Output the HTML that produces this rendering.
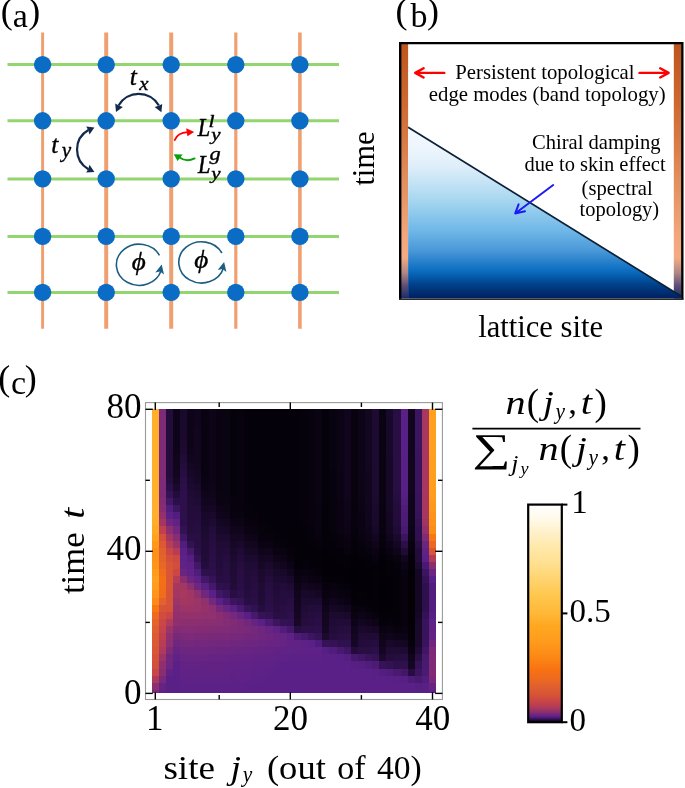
<!DOCTYPE html>
<html lang="en"><head><meta charset="utf-8"><title>Chiral damping figure</title>
<style>html,body{margin:0;padding:0;background:#fff}svg{display:block}text{font-family:"Liberation Serif", serif;fill:#000}.i{font-style:italic}</style></head><body>
<svg width="685" height="788" viewBox="0 0 685 788">
<defs>
<linearGradient id="gb" x1="0" y1="0" x2="0" y2="1">
<stop offset="0" stop-color="#f6f9ff"/>
<stop offset="0.12" stop-color="#eef5fd"/>
<stop offset="0.24" stop-color="#dcedf9"/>
<stop offset="0.42" stop-color="#a9d7f0"/>
<stop offset="0.6" stop-color="#70b8e8"/>
<stop offset="0.72" stop-color="#4a98d8"/>
<stop offset="0.84" stop-color="#0a6cc0"/>
<stop offset="0.92" stop-color="#004088"/>
<stop offset="1" stop-color="#001f60"/>
</linearGradient>
<linearGradient id="go" x1="0" y1="0" x2="0" y2="1">
<stop offset="0" stop-color="#bd561c"/>
<stop offset="0.25" stop-color="#cf6a32"/>
<stop offset="0.5" stop-color="#e08a58"/>
<stop offset="0.75" stop-color="#f2a67c"/>
<stop offset="0.84" stop-color="#f4aa82"/>
<stop offset="0.9" stop-color="#b08684"/>
<stop offset="0.95" stop-color="#5c4e78"/>
<stop offset="1" stop-color="#182c68"/>
</linearGradient>
<linearGradient id="gc" x1="0" y1="1" x2="0" y2="0">
<stop offset="0" stop-color="#020005"/>
<stop offset="0.013" stop-color="#301150"/>
<stop offset="0.025" stop-color="#5a2088"/>
<stop offset="0.046" stop-color="#8a2e72"/>
<stop offset="0.067" stop-color="#b03a5a"/>
<stop offset="0.095" stop-color="#c84448"/>
<stop offset="0.13" stop-color="#d85535"/>
<stop offset="0.165" stop-color="#e06030"/>
<stop offset="0.2" stop-color="#ee6a20"/>
<stop offset="0.242" stop-color="#f87212"/>
<stop offset="0.305" stop-color="#fc8a16"/>
<stop offset="0.375" stop-color="#ff9c1c"/>
<stop offset="0.445" stop-color="#ffa822"/>
<stop offset="0.5" stop-color="#ffb838"/>
<stop offset="0.59" stop-color="#ffc850"/>
<stop offset="0.66" stop-color="#ffd470"/>
<stop offset="0.73" stop-color="#ffe090"/>
<stop offset="0.8" stop-color="#ffe8a8"/>
<stop offset="0.87" stop-color="#fff0c8"/>
<stop offset="0.94" stop-color="#fffaec"/>
<stop offset="1" stop-color="#ffffff"/>
</linearGradient>
</defs>
<rect width="685" height="788" fill="#fff"/>
<g id="panel-a">
<text y="23.1" font-size="36"><tspan x="0.8">(</tspan><tspan x="28.3">)</tspan></text>
<text x="12.7" y="26.7" font-size="34">a</text>
<line x1="7.5" x2="339" y1="64.6" y2="64.6" stroke="#93d56f" stroke-width="3"/>
<line x1="7.5" x2="339" y1="120.8" y2="120.8" stroke="#93d56f" stroke-width="3"/>
<line x1="7.5" x2="339" y1="178.9" y2="178.9" stroke="#93d56f" stroke-width="3"/>
<line x1="7.5" x2="339" y1="236.4" y2="236.4" stroke="#93d56f" stroke-width="3"/>
<line x1="7.5" x2="339" y1="292.4" y2="292.4" stroke="#93d56f" stroke-width="3"/>
<line x1="42.6" x2="42.6" y1="32.5" y2="328.8" stroke="#f0a070" stroke-width="3"/>
<line x1="106.2" x2="106.2" y1="32.5" y2="328.8" stroke="#f0a070" stroke-width="4"/>
<line x1="171.2" x2="171.2" y1="32.5" y2="328.8" stroke="#f0a070" stroke-width="4"/>
<line x1="235.8" x2="235.8" y1="32.5" y2="328.8" stroke="#f0a070" stroke-width="3.2"/>
<line x1="299.9" x2="299.9" y1="32.5" y2="328.8" stroke="#f0a070" stroke-width="3.6"/>
<circle cx="42.6" cy="64.6" r="8.7" fill="#0a6cc4"/>
<circle cx="106.2" cy="64.6" r="8.7" fill="#0a6cc4"/>
<circle cx="171.2" cy="64.6" r="8.7" fill="#0a6cc4"/>
<circle cx="235.8" cy="64.6" r="8.7" fill="#0a6cc4"/>
<circle cx="299.9" cy="64.6" r="8.7" fill="#0a6cc4"/>
<circle cx="42.6" cy="120.8" r="8.7" fill="#0a6cc4"/>
<circle cx="106.2" cy="120.8" r="8.7" fill="#0a6cc4"/>
<circle cx="171.2" cy="120.8" r="8.7" fill="#0a6cc4"/>
<circle cx="235.8" cy="120.8" r="8.7" fill="#0a6cc4"/>
<circle cx="299.9" cy="120.8" r="8.7" fill="#0a6cc4"/>
<circle cx="42.6" cy="178.9" r="8.7" fill="#0a6cc4"/>
<circle cx="106.2" cy="178.9" r="8.7" fill="#0a6cc4"/>
<circle cx="171.2" cy="178.9" r="8.7" fill="#0a6cc4"/>
<circle cx="235.8" cy="178.9" r="8.7" fill="#0a6cc4"/>
<circle cx="299.9" cy="178.9" r="8.7" fill="#0a6cc4"/>
<circle cx="42.6" cy="236.4" r="8.7" fill="#0a6cc4"/>
<circle cx="106.2" cy="236.4" r="8.7" fill="#0a6cc4"/>
<circle cx="171.2" cy="236.4" r="8.7" fill="#0a6cc4"/>
<circle cx="235.8" cy="236.4" r="8.7" fill="#0a6cc4"/>
<circle cx="299.9" cy="236.4" r="8.7" fill="#0a6cc4"/>
<circle cx="42.6" cy="292.4" r="8.7" fill="#0a6cc4"/>
<circle cx="106.2" cy="292.4" r="8.7" fill="#0a6cc4"/>
<circle cx="171.2" cy="292.4" r="8.7" fill="#0a6cc4"/>
<circle cx="235.8" cy="292.4" r="8.7" fill="#0a6cc4"/>
<circle cx="299.9" cy="292.4" r="8.7" fill="#0a6cc4"/>
<path d="M118.5 105.55 A23.3 23.3 0 0 1 158.9 105.55" fill="none" stroke="#13294b" stroke-width="2.2"/>
<path d="M116.0 111.9 L115.2 103.6 L118.6 105.6 L122.9 106.9 Z" fill="#13294b"/>
<path d="M161.4 112.3 L154.6 107.0 L158.8 105.8 L162.2 103.9 Z" fill="#13294b"/>
<path d="M88.4 130.0 A22.6 22.6 0 0 0 88.4 169.2" fill="none" stroke="#13294b" stroke-width="2.2"/>
<path d="M94.4 127.5 L86.2 126.6 L88.2 130.0 L89.5 134.4 Z" fill="#13294b"/>
<path d="M94.4 171.9 L89.5 164.8 L88.2 169.2 L86.2 172.6 Z" fill="#13294b"/>
<text x="129.78" y="85.10" font-size="25.5" class="i" stroke="#000" stroke-width="0.35">t</text>
<text x="139.36" y="89.80" font-size="19.6" class="i" textLength="9.30" lengthAdjust="spacingAndGlyphs" stroke="#000" stroke-width="0.35">x</text>
<text x="51.28" y="152.50" font-size="25.5" class="i" stroke="#000" stroke-width="0.35">t</text>
<text x="61.67" y="157.30" font-size="21" class="i" textLength="9.42" lengthAdjust="spacingAndGlyphs" stroke="#000" stroke-width="0.35">y</text>
<text x="197.66" y="136.30" font-size="24.6" class="i" textLength="12.39" lengthAdjust="spacingAndGlyphs" stroke="#000" stroke-width="0.5">L</text>
<text x="208.44" y="126.60" font-size="16" class="i" textLength="6.03" lengthAdjust="spacingAndGlyphs" stroke="#000" stroke-width="0.35">l</text>
<text x="211.36" y="140.40" font-size="17.3" class="i" textLength="9.33" lengthAdjust="spacingAndGlyphs" stroke="#000" stroke-width="0.35">y</text>
<text x="198.06" y="173.30" font-size="24.6" class="i" textLength="12.39" lengthAdjust="spacingAndGlyphs" stroke="#000" stroke-width="0.5">L</text>
<text x="209.59" y="160.20" font-size="18" class="i" textLength="11.17" lengthAdjust="spacingAndGlyphs" stroke="#000" stroke-width="0.35">g</text>
<text x="211.36" y="179.00" font-size="17.3" class="i" textLength="9.33" lengthAdjust="spacingAndGlyphs" stroke="#000" stroke-width="0.35">y</text>
<path d="M174.8 140.0 Q177.5 132.6 187.6 132.1" fill="none" stroke="#ff0000" stroke-width="1.9" stroke-linecap="round"/>
<path d="M194.2 132.0 L186.2 128.3 L187.4 136.2 Z" fill="#ff0000"/>
<path d="M194.6 158.4 Q186.5 162.6 179.6 157.6" fill="none" stroke="#0aa00a" stroke-width="1.9" stroke-linecap="round"/>
<path d="M173.8 154.2 L182.6 154.6 L177.6 160.9 Z" fill="#0aa00a"/>
<path d="M159.5 255.4 A22.8 20.6 0 1 0 161.1 270.5" fill="none" stroke="#1b5e82" stroke-width="1.6"/>
<path d="M161.7 264.5 L155.3 272.5 L160.1 271.5 L164.0 274.5 Z" fill="#1b5e82"/>
<text x="131.8" y="269.8" font-size="25.5" textLength="14" lengthAdjust="spacingAndGlyphs" class="i" stroke="#000" stroke-width="0.35">&#981;</text>
<path d="M221.9 253.0 A22.8 20.6 0 1 0 223.5 268.1" fill="none" stroke="#1b5e82" stroke-width="1.6"/>
<path d="M224.1 262.1 L217.7 270.1 L222.5 269.1 L226.4 272.1 Z" fill="#1b5e82"/>
<text x="194.2" y="268.3" font-size="25.5" textLength="14" lengthAdjust="spacingAndGlyphs" class="i" stroke="#000" stroke-width="0.35">&#981;</text>
</g>
<g id="panel-b">
<text y="23.3" font-size="36"><tspan x="395.5">(</tspan><tspan x="426.9">)</tspan></text>
<text x="410.4" y="26.6" font-size="34">b</text>
<rect x="400.9" y="44" width="7.2" height="254.5" fill="url(#go)"/>
<rect x="673.8" y="44" width="7.2" height="254.5" fill="url(#go)"/>
<path d="M408.1 127.2 L680.8 296 L680.8 298.6 L408.1 298.6 Z" fill="url(#gb)"/>
<path d="M408.1 127.2 L680.8 296" stroke="#0b2038" stroke-width="1.7" fill="none"/>
<path d="M400.2 299.6 V43.1 H682.3 V299.6" fill="none" stroke="#000" stroke-width="2.4"/>
<path d="M399 299.2 H683.5" stroke="#2a2a2a" stroke-width="1.6"/>
<path d="M444.3 72.9 H415.6 M423.6 68.3 L415.2 72.9 L423.6 77.5" fill="none" stroke="#ff0000" stroke-width="2.4" stroke-linecap="round" stroke-linejoin="round"/>
<path d="M639.5 72.9 H668.2 M660.2 68.3 L668.6 72.9 L660.2 77.5" fill="none" stroke="#ff0000" stroke-width="2.4" stroke-linecap="round" stroke-linejoin="round"/>
<text x="455.3" y="78.9" font-size="20.7" textLength="179.3" lengthAdjust="spacingAndGlyphs">Persistent topological</text>
<text x="428.8" y="101.0" font-size="20.7" textLength="236.8" lengthAdjust="spacingAndGlyphs">edge modes (band topology)</text>
<text x="532" y="148.7" font-size="20.7" textLength="128.5" lengthAdjust="spacingAndGlyphs">Chiral damping</text>
<text x="524.4" y="171.2" font-size="20.7" textLength="141.2" lengthAdjust="spacingAndGlyphs">due to skin effect</text>
<text x="581.6" y="195.0" font-size="20.7" textLength="71.1" lengthAdjust="spacingAndGlyphs">(spectral</text>
<text x="579.5" y="216.0" font-size="20.7" textLength="79.7" lengthAdjust="spacingAndGlyphs">topology)</text>
<path d="M553.2 185.0 L515.8 213.0 M525.0 211.2 L515.2 213.4 L518.6 204.4" fill="none" stroke="#1c1cf2" stroke-width="2.0" stroke-linecap="round" stroke-linejoin="round"/>
<text transform="translate(374,185.6) rotate(-90)" font-size="30.5">time</text>
<text x="478.2" y="336.9" font-size="30.6">lattice site</text>
</g>
<g id="panel-c">
<text y="390.3" font-size="36"><tspan x="-1.7">(</tspan><tspan x="24.8">)</tspan></text>
<text x="11.0" y="393.5" font-size="34">c</text>
<g shape-rendering="crispEdges">
<rect x="151.70" y="689.55" width="7.41" height="3.55" fill="#7a297a"/>
<rect x="158.81" y="689.55" width="7.41" height="3.55" fill="#5e2186"/>
<rect x="165.92" y="689.55" width="14.52" height="3.55" fill="#591f86"/>
<rect x="180.14" y="689.55" width="234.93" height="3.55" fill="#5a2088"/>
<rect x="414.77" y="689.55" width="7.41" height="3.55" fill="#581f85"/>
<rect x="421.88" y="689.55" width="7.41" height="3.55" fill="#591f86"/>
<rect x="428.99" y="689.55" width="7.11" height="3.55" fill="#5c2087"/>
<rect x="151.70" y="682.45" width="7.41" height="7.40" fill="#8c2f71"/>
<rect x="158.81" y="682.45" width="7.41" height="7.40" fill="#652383"/>
<rect x="165.92" y="682.45" width="14.52" height="7.40" fill="#592086"/>
<rect x="180.14" y="682.45" width="50.07" height="7.40" fill="#5c2187"/>
<rect x="229.91" y="682.45" width="14.52" height="7.40" fill="#5c2087"/>
<rect x="244.13" y="682.45" width="14.52" height="7.40" fill="#5b2087"/>
<rect x="258.35" y="682.45" width="14.52" height="7.40" fill="#5b2088"/>
<rect x="272.57" y="682.45" width="135.39" height="7.40" fill="#5a2088"/>
<rect x="407.66" y="682.45" width="7.41" height="7.40" fill="#592086"/>
<rect x="414.77" y="682.45" width="7.41" height="7.40" fill="#561f82"/>
<rect x="421.88" y="682.45" width="7.41" height="7.40" fill="#581f85"/>
<rect x="428.99" y="682.45" width="7.11" height="7.40" fill="#672482"/>
<rect x="151.70" y="675.34" width="7.41" height="7.40" fill="#ad395c"/>
<rect x="158.81" y="675.34" width="7.41" height="7.40" fill="#7a297a"/>
<rect x="165.92" y="675.34" width="14.52" height="7.40" fill="#592087"/>
<rect x="180.14" y="675.34" width="7.41" height="7.40" fill="#5e2186"/>
<rect x="187.25" y="675.34" width="7.41" height="7.40" fill="#5f2186"/>
<rect x="194.36" y="675.34" width="35.85" height="7.40" fill="#5e2186"/>
<rect x="229.91" y="675.34" width="7.41" height="7.40" fill="#5d2186"/>
<rect x="237.02" y="675.34" width="14.52" height="7.40" fill="#5d2187"/>
<rect x="251.24" y="675.34" width="14.52" height="7.40" fill="#5c2187"/>
<rect x="265.46" y="675.34" width="7.41" height="7.40" fill="#5b2087"/>
<rect x="272.57" y="675.34" width="14.52" height="7.40" fill="#5b2088"/>
<rect x="286.79" y="675.34" width="92.73" height="7.40" fill="#5a2088"/>
<rect x="379.22" y="675.34" width="14.52" height="7.40" fill="#592087"/>
<rect x="393.44" y="675.34" width="7.41" height="7.40" fill="#581f85"/>
<rect x="400.55" y="675.34" width="7.41" height="7.40" fill="#571f84"/>
<rect x="407.66" y="675.34" width="7.41" height="7.40" fill="#4e1c78"/>
<rect x="414.77" y="675.34" width="7.41" height="7.40" fill="#491a72"/>
<rect x="421.88" y="675.34" width="7.41" height="7.40" fill="#521d7d"/>
<rect x="428.99" y="675.34" width="7.11" height="7.40" fill="#7b2a79"/>
<rect x="151.70" y="668.24" width="7.41" height="7.40" fill="#c94547"/>
<rect x="158.81" y="668.24" width="7.41" height="7.40" fill="#8a2e72"/>
<rect x="165.92" y="668.24" width="7.41" height="7.40" fill="#622284"/>
<rect x="173.03" y="668.24" width="7.41" height="7.40" fill="#5a2087"/>
<rect x="180.14" y="668.24" width="21.63" height="7.40" fill="#612285"/>
<rect x="201.47" y="668.24" width="28.74" height="7.40" fill="#602285"/>
<rect x="229.91" y="668.24" width="14.52" height="7.40" fill="#5f2186"/>
<rect x="244.13" y="668.24" width="7.41" height="7.40" fill="#5e2186"/>
<rect x="251.24" y="668.24" width="7.41" height="7.40" fill="#5d2186"/>
<rect x="258.35" y="668.24" width="7.41" height="7.40" fill="#5d2187"/>
<rect x="265.46" y="668.24" width="7.41" height="7.40" fill="#5c2187"/>
<rect x="272.57" y="668.24" width="7.41" height="7.40" fill="#5b2087"/>
<rect x="279.68" y="668.24" width="7.41" height="7.40" fill="#5b2088"/>
<rect x="286.79" y="668.24" width="64.29" height="7.40" fill="#5a2088"/>
<rect x="350.78" y="668.24" width="7.41" height="7.40" fill="#5a2087"/>
<rect x="357.89" y="668.24" width="14.52" height="7.40" fill="#592087"/>
<rect x="372.11" y="668.24" width="7.41" height="7.40" fill="#581f85"/>
<rect x="379.22" y="668.24" width="7.41" height="7.40" fill="#541e80"/>
<rect x="386.33" y="668.24" width="7.41" height="7.40" fill="#511d7b"/>
<rect x="393.44" y="668.24" width="7.41" height="7.40" fill="#4a1a72"/>
<rect x="400.55" y="668.24" width="7.41" height="7.40" fill="#421768"/>
<rect x="407.66" y="668.24" width="7.41" height="7.40" fill="#270e42"/>
<rect x="414.77" y="668.24" width="7.41" height="7.40" fill="#3c1560"/>
<rect x="421.88" y="668.24" width="7.41" height="7.40" fill="#4b1b74"/>
<rect x="428.99" y="668.24" width="7.11" height="7.40" fill="#822c76"/>
<rect x="151.70" y="661.14" width="7.41" height="7.40" fill="#d24f3c"/>
<rect x="158.81" y="661.14" width="7.41" height="7.40" fill="#8f2f6f"/>
<rect x="165.92" y="661.14" width="7.41" height="7.40" fill="#6e267f"/>
<rect x="173.03" y="661.14" width="7.41" height="7.40" fill="#5b2087"/>
<rect x="180.14" y="661.14" width="21.63" height="7.40" fill="#632384"/>
<rect x="201.47" y="661.14" width="21.63" height="7.40" fill="#622284"/>
<rect x="222.80" y="661.14" width="14.52" height="7.40" fill="#612285"/>
<rect x="237.02" y="661.14" width="7.41" height="7.40" fill="#602285"/>
<rect x="244.13" y="661.14" width="7.41" height="7.40" fill="#5f2286"/>
<rect x="251.24" y="661.14" width="7.41" height="7.40" fill="#5f2186"/>
<rect x="258.35" y="661.14" width="7.41" height="7.40" fill="#5e2186"/>
<rect x="265.46" y="661.14" width="7.41" height="7.40" fill="#5d2187"/>
<rect x="272.57" y="661.14" width="7.41" height="7.40" fill="#5c2187"/>
<rect x="279.68" y="661.14" width="7.41" height="7.40" fill="#5b2088"/>
<rect x="286.79" y="661.14" width="50.07" height="7.40" fill="#5a2088"/>
<rect x="336.56" y="661.14" width="14.52" height="7.40" fill="#592087"/>
<rect x="350.78" y="661.14" width="7.41" height="7.40" fill="#571f84"/>
<rect x="357.89" y="661.14" width="7.41" height="7.40" fill="#551e81"/>
<rect x="365.00" y="661.14" width="7.41" height="7.40" fill="#511d7c"/>
<rect x="372.11" y="661.14" width="7.41" height="7.40" fill="#4b1b75"/>
<rect x="379.22" y="661.14" width="7.41" height="7.40" fill="#361359"/>
<rect x="386.33" y="661.14" width="7.41" height="7.40" fill="#331254"/>
<rect x="393.44" y="661.14" width="7.41" height="7.40" fill="#2e104d"/>
<rect x="400.55" y="661.14" width="7.41" height="7.40" fill="#2e104c"/>
<rect x="407.66" y="661.14" width="7.41" height="7.40" fill="#150724"/>
<rect x="414.77" y="661.14" width="7.41" height="7.40" fill="#341255"/>
<rect x="421.88" y="661.14" width="7.41" height="7.40" fill="#491a72"/>
<rect x="428.99" y="661.14" width="7.11" height="7.40" fill="#812b76"/>
<rect x="151.70" y="654.04" width="7.41" height="7.40" fill="#d55139"/>
<rect x="158.81" y="654.04" width="7.41" height="7.40" fill="#9c3467"/>
<rect x="165.92" y="654.04" width="7.41" height="7.40" fill="#71277d"/>
<rect x="173.03" y="654.04" width="7.41" height="7.40" fill="#612285"/>
<rect x="180.14" y="654.04" width="28.74" height="7.40" fill="#672482"/>
<rect x="208.58" y="654.04" width="7.41" height="7.40" fill="#662482"/>
<rect x="215.69" y="654.04" width="7.41" height="7.40" fill="#662383"/>
<rect x="222.80" y="654.04" width="7.41" height="7.40" fill="#652383"/>
<rect x="229.91" y="654.04" width="7.41" height="7.40" fill="#642383"/>
<rect x="237.02" y="654.04" width="7.41" height="7.40" fill="#632384"/>
<rect x="244.13" y="654.04" width="7.41" height="7.40" fill="#632284"/>
<rect x="251.24" y="654.04" width="7.41" height="7.40" fill="#622285"/>
<rect x="258.35" y="654.04" width="7.41" height="7.40" fill="#612285"/>
<rect x="265.46" y="654.04" width="7.41" height="7.40" fill="#602285"/>
<rect x="272.57" y="654.04" width="7.41" height="7.40" fill="#5e2186"/>
<rect x="279.68" y="654.04" width="7.41" height="7.40" fill="#5d2187"/>
<rect x="286.79" y="654.04" width="21.63" height="7.40" fill="#5c2187"/>
<rect x="308.12" y="654.04" width="14.52" height="7.40" fill="#5c2087"/>
<rect x="322.34" y="654.04" width="7.41" height="7.40" fill="#5b2088"/>
<rect x="329.45" y="654.04" width="7.41" height="7.40" fill="#5a2088"/>
<rect x="336.56" y="654.04" width="7.41" height="7.40" fill="#581f86"/>
<rect x="343.67" y="654.04" width="7.41" height="7.40" fill="#551e81"/>
<rect x="350.78" y="654.04" width="7.41" height="7.40" fill="#47196e"/>
<rect x="357.89" y="654.04" width="7.41" height="7.40" fill="#401766"/>
<rect x="365.00" y="654.04" width="7.41" height="7.40" fill="#38145b"/>
<rect x="372.11" y="654.04" width="7.41" height="7.40" fill="#341255"/>
<rect x="379.22" y="654.04" width="7.41" height="7.40" fill="#1a092c"/>
<rect x="386.33" y="654.04" width="7.41" height="7.40" fill="#240d3c"/>
<rect x="393.44" y="654.04" width="7.41" height="7.40" fill="#250d3e"/>
<rect x="400.55" y="654.04" width="7.41" height="7.40" fill="#270e41"/>
<rect x="407.66" y="654.04" width="7.41" height="7.40" fill="#10051c"/>
<rect x="414.77" y="654.04" width="7.41" height="7.40" fill="#2a0f46"/>
<rect x="421.88" y="654.04" width="7.41" height="7.40" fill="#48196f"/>
<rect x="428.99" y="654.04" width="7.11" height="7.40" fill="#7f2b77"/>
<rect x="151.70" y="646.93" width="7.41" height="7.40" fill="#d85535"/>
<rect x="158.81" y="646.93" width="7.41" height="7.40" fill="#af3a5b"/>
<rect x="165.92" y="646.93" width="7.41" height="7.40" fill="#802b77"/>
<rect x="173.03" y="646.93" width="7.41" height="7.40" fill="#682482"/>
<rect x="180.14" y="646.93" width="14.52" height="7.40" fill="#6d267f"/>
<rect x="194.36" y="646.93" width="7.41" height="7.40" fill="#6d257f"/>
<rect x="201.47" y="646.93" width="14.52" height="7.40" fill="#6c2580"/>
<rect x="215.69" y="646.93" width="14.52" height="7.40" fill="#6b2580"/>
<rect x="229.91" y="646.93" width="7.41" height="7.40" fill="#6a2581"/>
<rect x="237.02" y="646.93" width="7.41" height="7.40" fill="#682481"/>
<rect x="244.13" y="646.93" width="7.41" height="7.40" fill="#672482"/>
<rect x="251.24" y="646.93" width="7.41" height="7.40" fill="#662482"/>
<rect x="258.35" y="646.93" width="7.41" height="7.40" fill="#652383"/>
<rect x="265.46" y="646.93" width="7.41" height="7.40" fill="#642384"/>
<rect x="272.57" y="646.93" width="7.41" height="7.40" fill="#622284"/>
<rect x="279.68" y="646.93" width="7.41" height="7.40" fill="#612285"/>
<rect x="286.79" y="646.93" width="7.41" height="7.40" fill="#5f2286"/>
<rect x="293.90" y="646.93" width="14.52" height="7.40" fill="#5f2186"/>
<rect x="308.12" y="646.93" width="7.41" height="7.40" fill="#5e2186"/>
<rect x="315.23" y="646.93" width="7.41" height="7.40" fill="#5d2187"/>
<rect x="322.34" y="646.93" width="7.41" height="7.40" fill="#561f83"/>
<rect x="329.45" y="646.93" width="7.41" height="7.40" fill="#511d7c"/>
<rect x="336.56" y="646.93" width="7.41" height="7.40" fill="#481970"/>
<rect x="343.67" y="646.93" width="7.41" height="7.40" fill="#3f1664"/>
<rect x="350.78" y="646.93" width="7.41" height="7.40" fill="#230c3b"/>
<rect x="357.89" y="646.93" width="14.52" height="7.40" fill="#290e44"/>
<rect x="372.11" y="646.93" width="7.41" height="7.40" fill="#2b0f48"/>
<rect x="379.22" y="646.93" width="7.41" height="7.40" fill="#140622"/>
<rect x="386.33" y="646.93" width="14.52" height="7.40" fill="#1f0b34"/>
<rect x="400.55" y="646.93" width="7.41" height="7.40" fill="#1e0a33"/>
<rect x="407.66" y="646.93" width="7.41" height="7.40" fill="#0b0314"/>
<rect x="414.77" y="646.93" width="7.41" height="7.40" fill="#200b36"/>
<rect x="421.88" y="646.93" width="7.41" height="7.40" fill="#401765"/>
<rect x="428.99" y="646.93" width="7.11" height="7.40" fill="#7e2a78"/>
<rect x="151.70" y="639.83" width="7.41" height="7.40" fill="#da5834"/>
<rect x="158.81" y="639.83" width="7.41" height="7.40" fill="#b73d55"/>
<rect x="165.92" y="639.83" width="7.41" height="7.40" fill="#8d2f70"/>
<rect x="173.03" y="639.83" width="7.41" height="7.40" fill="#70267e"/>
<rect x="180.14" y="639.83" width="14.52" height="7.40" fill="#74287c"/>
<rect x="194.36" y="639.83" width="7.41" height="7.40" fill="#73277c"/>
<rect x="201.47" y="639.83" width="7.41" height="7.40" fill="#73277d"/>
<rect x="208.58" y="639.83" width="14.52" height="7.40" fill="#72277d"/>
<rect x="222.80" y="639.83" width="7.41" height="7.40" fill="#71277e"/>
<rect x="229.91" y="639.83" width="7.41" height="7.40" fill="#70267e"/>
<rect x="237.02" y="639.83" width="7.41" height="7.40" fill="#6f267f"/>
<rect x="244.13" y="639.83" width="7.41" height="7.40" fill="#6d267f"/>
<rect x="251.24" y="639.83" width="7.41" height="7.40" fill="#6c2580"/>
<rect x="258.35" y="639.83" width="7.41" height="7.40" fill="#6a2581"/>
<rect x="265.46" y="639.83" width="7.41" height="7.40" fill="#692481"/>
<rect x="272.57" y="639.83" width="7.41" height="7.40" fill="#672482"/>
<rect x="279.68" y="639.83" width="7.41" height="7.40" fill="#652383"/>
<rect x="286.79" y="639.83" width="7.41" height="7.40" fill="#622284"/>
<rect x="293.90" y="639.83" width="7.41" height="7.40" fill="#602285"/>
<rect x="301.01" y="639.83" width="7.41" height="7.40" fill="#5e2186"/>
<rect x="308.12" y="639.83" width="7.41" height="7.40" fill="#592086"/>
<rect x="315.23" y="639.83" width="7.41" height="7.40" fill="#501c7b"/>
<rect x="322.34" y="639.83" width="7.41" height="7.40" fill="#361358"/>
<rect x="329.45" y="639.83" width="7.41" height="7.40" fill="#341255"/>
<rect x="336.56" y="639.83" width="14.52" height="7.40" fill="#2f114e"/>
<rect x="350.78" y="639.83" width="7.41" height="7.40" fill="#160726"/>
<rect x="357.89" y="639.83" width="7.41" height="7.40" fill="#230c3a"/>
<rect x="365.00" y="639.83" width="7.41" height="7.40" fill="#240d3d"/>
<rect x="372.11" y="639.83" width="7.41" height="7.40" fill="#260d40"/>
<rect x="379.22" y="639.83" width="7.41" height="7.40" fill="#11051d"/>
<rect x="386.33" y="639.83" width="7.41" height="7.40" fill="#19082a"/>
<rect x="393.44" y="639.83" width="7.41" height="7.40" fill="#160726"/>
<rect x="400.55" y="639.83" width="7.41" height="7.40" fill="#140722"/>
<rect x="407.66" y="639.83" width="7.41" height="7.40" fill="#07020d"/>
<rect x="414.77" y="639.83" width="7.41" height="7.40" fill="#1a092d"/>
<rect x="421.88" y="639.83" width="7.41" height="7.40" fill="#39145c"/>
<rect x="428.99" y="639.83" width="7.11" height="7.40" fill="#71277d"/>
<rect x="151.70" y="632.73" width="7.41" height="7.40" fill="#dd5b32"/>
<rect x="158.81" y="632.73" width="7.41" height="7.40" fill="#be404f"/>
<rect x="165.92" y="632.73" width="7.41" height="7.40" fill="#90306e"/>
<rect x="173.03" y="632.73" width="7.41" height="7.40" fill="#76287b"/>
<rect x="180.14" y="632.73" width="7.41" height="7.40" fill="#7b2a79"/>
<rect x="187.25" y="632.73" width="7.41" height="7.40" fill="#7c2a79"/>
<rect x="194.36" y="632.73" width="7.41" height="7.40" fill="#7b2a79"/>
<rect x="201.47" y="632.73" width="14.52" height="7.40" fill="#7a2979"/>
<rect x="215.69" y="632.73" width="7.41" height="7.40" fill="#79297a"/>
<rect x="222.80" y="632.73" width="7.41" height="7.40" fill="#78297a"/>
<rect x="229.91" y="632.73" width="7.41" height="7.40" fill="#77287b"/>
<rect x="237.02" y="632.73" width="7.41" height="7.40" fill="#75287c"/>
<rect x="244.13" y="632.73" width="7.41" height="7.40" fill="#73277c"/>
<rect x="251.24" y="632.73" width="7.41" height="7.40" fill="#71277d"/>
<rect x="258.35" y="632.73" width="7.41" height="7.40" fill="#6f267e"/>
<rect x="265.46" y="632.73" width="7.41" height="7.40" fill="#6d257f"/>
<rect x="272.57" y="632.73" width="7.41" height="7.40" fill="#692481"/>
<rect x="279.68" y="632.73" width="7.41" height="7.40" fill="#652383"/>
<rect x="286.79" y="632.73" width="7.41" height="7.40" fill="#5f2186"/>
<rect x="293.90" y="632.73" width="7.41" height="7.40" fill="#4e1c78"/>
<rect x="301.01" y="632.73" width="7.41" height="7.40" fill="#46196e"/>
<rect x="308.12" y="632.73" width="7.41" height="7.40" fill="#3c1560"/>
<rect x="315.23" y="632.73" width="7.41" height="7.40" fill="#361358"/>
<rect x="322.34" y="632.73" width="7.41" height="7.40" fill="#1b092e"/>
<rect x="329.45" y="632.73" width="7.41" height="7.40" fill="#260d3f"/>
<rect x="336.56" y="632.73" width="7.41" height="7.40" fill="#280e42"/>
<rect x="343.67" y="632.73" width="7.41" height="7.40" fill="#2a0f47"/>
<rect x="350.78" y="632.73" width="7.41" height="7.40" fill="#130621"/>
<rect x="357.89" y="632.73" width="7.41" height="7.40" fill="#1f0b35"/>
<rect x="365.00" y="632.73" width="7.41" height="7.40" fill="#200b35"/>
<rect x="372.11" y="632.73" width="7.41" height="7.40" fill="#1f0b35"/>
<rect x="379.22" y="632.73" width="7.41" height="7.40" fill="#0d0416"/>
<rect x="386.33" y="632.73" width="7.41" height="7.40" fill="#11051d"/>
<rect x="393.44" y="632.73" width="7.41" height="7.40" fill="#0e0418"/>
<rect x="400.55" y="632.73" width="7.41" height="7.40" fill="#0c0416"/>
<rect x="407.66" y="632.73" width="7.41" height="7.40" fill="#040109"/>
<rect x="414.77" y="632.73" width="7.41" height="7.40" fill="#1a092c"/>
<rect x="421.88" y="632.73" width="7.41" height="7.40" fill="#39145c"/>
<rect x="428.99" y="632.73" width="7.11" height="7.40" fill="#642384"/>
<rect x="151.70" y="625.63" width="7.41" height="7.40" fill="#e05f30"/>
<rect x="158.81" y="625.63" width="7.41" height="7.40" fill="#c5434a"/>
<rect x="165.92" y="625.63" width="7.41" height="7.40" fill="#9c3467"/>
<rect x="173.03" y="625.63" width="7.41" height="7.40" fill="#832c75"/>
<rect x="180.14" y="625.63" width="14.52" height="7.40" fill="#842c75"/>
<rect x="194.36" y="625.63" width="14.52" height="7.40" fill="#832c75"/>
<rect x="208.58" y="625.63" width="7.41" height="7.40" fill="#822c76"/>
<rect x="215.69" y="625.63" width="7.41" height="7.40" fill="#812b76"/>
<rect x="222.80" y="625.63" width="7.41" height="7.40" fill="#802b77"/>
<rect x="229.91" y="625.63" width="7.41" height="7.40" fill="#7e2a78"/>
<rect x="237.02" y="625.63" width="7.41" height="7.40" fill="#7b2a79"/>
<rect x="244.13" y="625.63" width="7.41" height="7.40" fill="#78297a"/>
<rect x="251.24" y="625.63" width="7.41" height="7.40" fill="#74287c"/>
<rect x="258.35" y="625.63" width="7.41" height="7.40" fill="#6e267f"/>
<rect x="265.46" y="625.63" width="7.41" height="7.40" fill="#672482"/>
<rect x="272.57" y="625.63" width="7.41" height="7.40" fill="#5e2186"/>
<rect x="279.68" y="625.63" width="7.41" height="7.40" fill="#511d7c"/>
<rect x="286.79" y="625.63" width="7.41" height="7.40" fill="#45186c"/>
<rect x="293.90" y="625.63" width="7.41" height="7.40" fill="#270e41"/>
<rect x="301.01" y="625.63" width="7.41" height="7.40" fill="#2c0f49"/>
<rect x="308.12" y="625.63" width="7.41" height="7.40" fill="#2b0f48"/>
<rect x="315.23" y="625.63" width="7.41" height="7.40" fill="#2d104b"/>
<rect x="322.34" y="625.63" width="7.41" height="7.40" fill="#150724"/>
<rect x="329.45" y="625.63" width="7.41" height="7.40" fill="#230c3a"/>
<rect x="336.56" y="625.63" width="7.41" height="7.40" fill="#250d3e"/>
<rect x="343.67" y="625.63" width="7.41" height="7.40" fill="#270e41"/>
<rect x="350.78" y="625.63" width="7.41" height="7.40" fill="#11061e"/>
<rect x="357.89" y="625.63" width="7.41" height="7.40" fill="#1a092c"/>
<rect x="365.00" y="625.63" width="7.41" height="7.40" fill="#19082a"/>
<rect x="372.11" y="625.63" width="7.41" height="7.40" fill="#160726"/>
<rect x="379.22" y="625.63" width="7.41" height="7.40" fill="#090210"/>
<rect x="386.33" y="625.63" width="7.41" height="7.40" fill="#0a0312"/>
<rect x="393.44" y="625.63" width="7.41" height="7.40" fill="#08020f"/>
<rect x="400.55" y="625.63" width="7.41" height="7.40" fill="#090310"/>
<rect x="407.66" y="625.63" width="7.41" height="7.40" fill="#030007"/>
<rect x="414.77" y="625.63" width="7.41" height="7.40" fill="#19092b"/>
<rect x="421.88" y="625.63" width="7.41" height="7.40" fill="#39145c"/>
<rect x="428.99" y="625.63" width="7.11" height="7.40" fill="#602285"/>
<rect x="151.70" y="618.52" width="7.41" height="7.40" fill="#e66429"/>
<rect x="158.81" y="618.52" width="7.41" height="7.40" fill="#cb4745"/>
<rect x="165.92" y="618.52" width="7.41" height="7.40" fill="#b13b59"/>
<rect x="173.03" y="618.52" width="7.41" height="7.40" fill="#8e2f70"/>
<rect x="180.14" y="618.52" width="7.41" height="7.40" fill="#8c2f71"/>
<rect x="187.25" y="618.52" width="7.41" height="7.40" fill="#8c2f70"/>
<rect x="194.36" y="618.52" width="7.41" height="7.40" fill="#8c2f71"/>
<rect x="201.47" y="618.52" width="7.41" height="7.40" fill="#8b2e71"/>
<rect x="208.58" y="618.52" width="7.41" height="7.40" fill="#8a2e72"/>
<rect x="215.69" y="618.52" width="7.41" height="7.40" fill="#882e73"/>
<rect x="222.80" y="618.52" width="7.41" height="7.40" fill="#852d74"/>
<rect x="229.91" y="618.52" width="7.41" height="7.40" fill="#812b76"/>
<rect x="237.02" y="618.52" width="7.41" height="7.40" fill="#7b2a79"/>
<rect x="244.13" y="618.52" width="7.41" height="7.40" fill="#72277d"/>
<rect x="251.24" y="618.52" width="7.41" height="7.40" fill="#662482"/>
<rect x="258.35" y="618.52" width="7.41" height="7.40" fill="#5a2088"/>
<rect x="265.46" y="618.52" width="7.41" height="7.40" fill="#4b1b74"/>
<rect x="272.57" y="618.52" width="7.41" height="7.40" fill="#3b155e"/>
<rect x="279.68" y="618.52" width="7.41" height="7.40" fill="#331254"/>
<rect x="286.79" y="618.52" width="7.41" height="7.40" fill="#311151"/>
<rect x="293.90" y="618.52" width="7.41" height="7.40" fill="#180828"/>
<rect x="301.01" y="618.52" width="7.41" height="7.40" fill="#250d3d"/>
<rect x="308.12" y="618.52" width="7.41" height="7.40" fill="#270e42"/>
<rect x="315.23" y="618.52" width="7.41" height="7.40" fill="#2a0f47"/>
<rect x="322.34" y="618.52" width="7.41" height="7.40" fill="#130621"/>
<rect x="329.45" y="618.52" width="7.41" height="7.40" fill="#200b36"/>
<rect x="336.56" y="618.52" width="7.41" height="7.40" fill="#210b37"/>
<rect x="343.67" y="618.52" width="7.41" height="7.40" fill="#210c38"/>
<rect x="350.78" y="618.52" width="7.41" height="7.40" fill="#0e0419"/>
<rect x="357.89" y="618.52" width="7.41" height="7.40" fill="#140622"/>
<rect x="365.00" y="618.52" width="7.41" height="7.40" fill="#11051d"/>
<rect x="372.11" y="618.52" width="7.41" height="7.40" fill="#0e0418"/>
<rect x="379.22" y="618.52" width="7.41" height="7.40" fill="#05010b"/>
<rect x="386.33" y="618.52" width="7.41" height="7.40" fill="#06010b"/>
<rect x="393.44" y="618.52" width="7.41" height="7.40" fill="#05010b"/>
<rect x="400.55" y="618.52" width="7.41" height="7.40" fill="#08020f"/>
<rect x="407.66" y="618.52" width="7.41" height="7.40" fill="#030007"/>
<rect x="414.77" y="618.52" width="7.41" height="7.40" fill="#180829"/>
<rect x="421.88" y="618.52" width="7.41" height="7.40" fill="#39145c"/>
<rect x="428.99" y="618.52" width="7.11" height="7.40" fill="#5d2187"/>
<rect x="151.70" y="611.42" width="7.41" height="7.40" fill="#ee6a20"/>
<rect x="158.81" y="611.42" width="7.41" height="7.40" fill="#d04d3e"/>
<rect x="165.92" y="611.42" width="7.41" height="7.40" fill="#c94547"/>
<rect x="173.03" y="611.42" width="7.41" height="7.40" fill="#91306d"/>
<rect x="180.14" y="611.42" width="14.52" height="7.40" fill="#94316c"/>
<rect x="194.36" y="611.42" width="7.41" height="7.40" fill="#93316c"/>
<rect x="201.47" y="611.42" width="7.41" height="7.40" fill="#92306d"/>
<rect x="208.58" y="611.42" width="7.41" height="7.40" fill="#90306e"/>
<rect x="215.69" y="611.42" width="7.41" height="7.40" fill="#892e72"/>
<rect x="222.80" y="611.42" width="7.41" height="7.40" fill="#812b76"/>
<rect x="229.91" y="611.42" width="7.41" height="7.40" fill="#75287c"/>
<rect x="237.02" y="611.42" width="7.41" height="7.40" fill="#682482"/>
<rect x="244.13" y="611.42" width="7.41" height="7.40" fill="#581f85"/>
<rect x="251.24" y="611.42" width="7.41" height="7.40" fill="#45196c"/>
<rect x="258.35" y="611.42" width="7.41" height="7.40" fill="#351357"/>
<rect x="265.46" y="611.42" width="7.41" height="7.40" fill="#321253"/>
<rect x="272.57" y="611.42" width="7.41" height="7.40" fill="#290e45"/>
<rect x="279.68" y="611.42" width="7.41" height="7.40" fill="#2a0f46"/>
<rect x="286.79" y="611.42" width="7.41" height="7.40" fill="#2c104a"/>
<rect x="293.90" y="611.42" width="7.41" height="7.40" fill="#150724"/>
<rect x="301.01" y="611.42" width="7.41" height="7.40" fill="#230c3a"/>
<rect x="308.12" y="611.42" width="7.41" height="7.40" fill="#250d3e"/>
<rect x="315.23" y="611.42" width="7.41" height="7.40" fill="#270e42"/>
<rect x="322.34" y="611.42" width="7.41" height="7.40" fill="#12061f"/>
<rect x="329.45" y="611.42" width="7.41" height="7.40" fill="#1c0a2f"/>
<rect x="336.56" y="611.42" width="7.41" height="7.40" fill="#1b092e"/>
<rect x="343.67" y="611.42" width="7.41" height="7.40" fill="#1a092c"/>
<rect x="350.78" y="611.42" width="7.41" height="7.40" fill="#0a0312"/>
<rect x="357.89" y="611.42" width="7.41" height="7.40" fill="#0d0417"/>
<rect x="365.00" y="611.42" width="7.41" height="7.40" fill="#0a0313"/>
<rect x="372.11" y="611.42" width="7.41" height="7.40" fill="#08020f"/>
<rect x="379.22" y="611.42" width="14.52" height="7.40" fill="#040108"/>
<rect x="393.44" y="611.42" width="7.41" height="7.40" fill="#050109"/>
<rect x="400.55" y="611.42" width="7.41" height="7.40" fill="#07020e"/>
<rect x="407.66" y="611.42" width="7.41" height="7.40" fill="#030007"/>
<rect x="414.77" y="611.42" width="7.41" height="7.40" fill="#160726"/>
<rect x="421.88" y="611.42" width="7.41" height="7.40" fill="#341255"/>
<rect x="428.99" y="611.42" width="7.11" height="7.40" fill="#581f86"/>
<rect x="151.70" y="604.32" width="7.41" height="7.40" fill="#f97713"/>
<rect x="158.81" y="604.32" width="7.41" height="7.40" fill="#d75436"/>
<rect x="165.92" y="604.32" width="7.41" height="7.40" fill="#d65337"/>
<rect x="173.03" y="604.32" width="7.41" height="7.40" fill="#95316b"/>
<rect x="180.14" y="604.32" width="14.52" height="7.40" fill="#9c3467"/>
<rect x="194.36" y="604.32" width="7.41" height="7.40" fill="#9a3368"/>
<rect x="201.47" y="604.32" width="7.41" height="7.40" fill="#96326a"/>
<rect x="208.58" y="604.32" width="7.41" height="7.40" fill="#8d2f70"/>
<rect x="215.69" y="604.32" width="7.41" height="7.40" fill="#77287b"/>
<rect x="222.80" y="604.32" width="7.41" height="7.40" fill="#682482"/>
<rect x="229.91" y="604.32" width="7.41" height="7.40" fill="#581f85"/>
<rect x="237.02" y="604.32" width="7.41" height="7.40" fill="#48196f"/>
<rect x="244.13" y="604.32" width="7.41" height="7.40" fill="#371459"/>
<rect x="251.24" y="604.32" width="7.41" height="7.40" fill="#301151"/>
<rect x="258.35" y="604.32" width="7.41" height="7.40" fill="#260d3f"/>
<rect x="265.46" y="604.32" width="7.41" height="7.40" fill="#2c0f49"/>
<rect x="272.57" y="604.32" width="7.41" height="7.40" fill="#250d3e"/>
<rect x="279.68" y="604.32" width="7.41" height="7.40" fill="#280e43"/>
<rect x="286.79" y="604.32" width="7.41" height="7.40" fill="#2a0f47"/>
<rect x="293.90" y="604.32" width="7.41" height="7.40" fill="#140622"/>
<rect x="301.01" y="604.32" width="7.41" height="7.40" fill="#200b36"/>
<rect x="308.12" y="604.32" width="7.41" height="7.40" fill="#220c39"/>
<rect x="315.23" y="604.32" width="7.41" height="7.40" fill="#230c3b"/>
<rect x="322.34" y="604.32" width="7.41" height="7.40" fill="#0f051a"/>
<rect x="329.45" y="604.32" width="7.41" height="7.40" fill="#160726"/>
<rect x="336.56" y="604.32" width="7.41" height="7.40" fill="#140723"/>
<rect x="343.67" y="604.32" width="7.41" height="7.40" fill="#12061e"/>
<rect x="350.78" y="604.32" width="7.41" height="7.40" fill="#07020d"/>
<rect x="357.89" y="604.32" width="7.41" height="7.40" fill="#08020f"/>
<rect x="365.00" y="604.32" width="7.41" height="7.40" fill="#06020c"/>
<rect x="372.11" y="604.32" width="7.41" height="7.40" fill="#05010a"/>
<rect x="379.22" y="604.32" width="7.41" height="7.40" fill="#030006"/>
<rect x="386.33" y="604.32" width="7.41" height="7.40" fill="#030107"/>
<rect x="393.44" y="604.32" width="7.41" height="7.40" fill="#040109"/>
<rect x="400.55" y="604.32" width="7.41" height="7.40" fill="#07020d"/>
<rect x="407.66" y="604.32" width="7.41" height="7.40" fill="#030006"/>
<rect x="414.77" y="604.32" width="7.41" height="7.40" fill="#140723"/>
<rect x="421.88" y="604.32" width="7.41" height="7.40" fill="#2e104d"/>
<rect x="428.99" y="604.32" width="7.11" height="7.40" fill="#541e80"/>
<rect x="151.70" y="597.22" width="7.41" height="7.40" fill="#fc8b16"/>
<rect x="158.81" y="597.22" width="7.41" height="7.40" fill="#e2612e"/>
<rect x="165.92" y="597.22" width="7.41" height="7.40" fill="#d75436"/>
<rect x="173.03" y="597.22" width="7.41" height="7.40" fill="#9c3467"/>
<rect x="180.14" y="597.22" width="7.41" height="7.40" fill="#a43662"/>
<rect x="187.25" y="597.22" width="7.41" height="7.40" fill="#a23663"/>
<rect x="194.36" y="597.22" width="7.41" height="7.40" fill="#9d3466"/>
<rect x="201.47" y="597.22" width="7.41" height="7.40" fill="#8f306f"/>
<rect x="208.58" y="597.22" width="7.41" height="7.40" fill="#74287c"/>
<rect x="215.69" y="597.22" width="7.41" height="7.40" fill="#5a2088"/>
<rect x="222.80" y="597.22" width="7.41" height="7.40" fill="#4b1a73"/>
<rect x="229.91" y="597.22" width="7.41" height="7.40" fill="#3a145d"/>
<rect x="237.02" y="597.22" width="7.41" height="7.40" fill="#341356"/>
<rect x="244.13" y="597.22" width="7.41" height="7.40" fill="#290e45"/>
<rect x="251.24" y="597.22" width="7.41" height="7.40" fill="#2a0f46"/>
<rect x="258.35" y="597.22" width="7.41" height="7.40" fill="#210c38"/>
<rect x="265.46" y="597.22" width="7.41" height="7.40" fill="#2a0f46"/>
<rect x="272.57" y="597.22" width="7.41" height="7.40" fill="#240c3c"/>
<rect x="279.68" y="597.22" width="7.41" height="7.40" fill="#260d40"/>
<rect x="286.79" y="597.22" width="7.41" height="7.40" fill="#280e43"/>
<rect x="293.90" y="597.22" width="7.41" height="7.40" fill="#12061f"/>
<rect x="301.01" y="597.22" width="14.52" height="7.40" fill="#1d0a31"/>
<rect x="315.23" y="597.22" width="7.41" height="7.40" fill="#1d0a30"/>
<rect x="322.34" y="597.22" width="7.41" height="7.40" fill="#0c0415"/>
<rect x="329.45" y="597.22" width="7.41" height="7.40" fill="#10051c"/>
<rect x="336.56" y="597.22" width="7.41" height="7.40" fill="#0e0418"/>
<rect x="343.67" y="597.22" width="7.41" height="7.40" fill="#0b0314"/>
<rect x="350.78" y="597.22" width="7.41" height="7.40" fill="#050109"/>
<rect x="357.89" y="597.22" width="7.41" height="7.40" fill="#05010a"/>
<rect x="365.00" y="597.22" width="14.52" height="7.40" fill="#040108"/>
<rect x="379.22" y="597.22" width="7.41" height="7.40" fill="#030006"/>
<rect x="386.33" y="597.22" width="7.41" height="7.40" fill="#030007"/>
<rect x="393.44" y="597.22" width="7.41" height="7.40" fill="#040109"/>
<rect x="400.55" y="597.22" width="7.41" height="7.40" fill="#07020d"/>
<rect x="407.66" y="597.22" width="7.41" height="7.40" fill="#030006"/>
<rect x="414.77" y="597.22" width="7.41" height="7.40" fill="#140723"/>
<rect x="421.88" y="597.22" width="7.41" height="7.40" fill="#2e104d"/>
<rect x="428.99" y="597.22" width="7.11" height="7.40" fill="#531e7f"/>
<rect x="151.70" y="590.11" width="7.41" height="7.40" fill="#fe951a"/>
<rect x="158.81" y="590.11" width="7.41" height="7.40" fill="#f16d1b"/>
<rect x="165.92" y="590.11" width="7.41" height="7.40" fill="#d75436"/>
<rect x="173.03" y="590.11" width="7.41" height="7.40" fill="#a33662"/>
<rect x="180.14" y="590.11" width="7.41" height="7.40" fill="#a9385e"/>
<rect x="187.25" y="590.11" width="7.41" height="7.40" fill="#a23663"/>
<rect x="194.36" y="590.11" width="7.41" height="7.40" fill="#8f306f"/>
<rect x="201.47" y="590.11" width="7.41" height="7.40" fill="#71277d"/>
<rect x="208.58" y="590.11" width="7.41" height="7.40" fill="#5a2087"/>
<rect x="215.69" y="590.11" width="7.41" height="7.40" fill="#401766"/>
<rect x="222.80" y="590.11" width="7.41" height="7.40" fill="#371359"/>
<rect x="229.91" y="590.11" width="7.41" height="7.40" fill="#290e44"/>
<rect x="237.02" y="590.11" width="7.41" height="7.40" fill="#2d104b"/>
<rect x="244.13" y="590.11" width="7.41" height="7.40" fill="#250d3d"/>
<rect x="251.24" y="590.11" width="7.41" height="7.40" fill="#280e43"/>
<rect x="258.35" y="590.11" width="7.41" height="7.40" fill="#200b36"/>
<rect x="265.46" y="590.11" width="7.41" height="7.40" fill="#280e44"/>
<rect x="272.57" y="590.11" width="7.41" height="7.40" fill="#220c39"/>
<rect x="279.68" y="590.11" width="7.41" height="7.40" fill="#250d3d"/>
<rect x="286.79" y="590.11" width="7.41" height="7.40" fill="#240d3d"/>
<rect x="293.90" y="590.11" width="7.41" height="7.40" fill="#10051c"/>
<rect x="301.01" y="590.11" width="7.41" height="7.40" fill="#180829"/>
<rect x="308.12" y="590.11" width="7.41" height="7.40" fill="#170828"/>
<rect x="315.23" y="590.11" width="7.41" height="7.40" fill="#150724"/>
<rect x="322.34" y="590.11" width="7.41" height="7.40" fill="#090210"/>
<rect x="329.45" y="590.11" width="7.41" height="7.40" fill="#0b0313"/>
<rect x="336.56" y="590.11" width="7.41" height="7.40" fill="#090210"/>
<rect x="343.67" y="590.11" width="7.41" height="7.40" fill="#07020d"/>
<rect x="350.78" y="590.11" width="7.41" height="7.40" fill="#030007"/>
<rect x="357.89" y="590.11" width="7.41" height="7.40" fill="#040107"/>
<rect x="365.00" y="590.11" width="7.41" height="7.40" fill="#030007"/>
<rect x="372.11" y="590.11" width="7.41" height="7.40" fill="#040108"/>
<rect x="379.22" y="590.11" width="7.41" height="7.40" fill="#020006"/>
<rect x="386.33" y="590.11" width="7.41" height="7.40" fill="#030007"/>
<rect x="393.44" y="590.11" width="7.41" height="7.40" fill="#040109"/>
<rect x="400.55" y="590.11" width="7.41" height="7.40" fill="#07020d"/>
<rect x="407.66" y="590.11" width="7.41" height="7.40" fill="#030006"/>
<rect x="414.77" y="590.11" width="7.41" height="7.40" fill="#150723"/>
<rect x="421.88" y="590.11" width="7.41" height="7.40" fill="#2e104d"/>
<rect x="428.99" y="590.11" width="7.11" height="7.40" fill="#531d7e"/>
<rect x="151.70" y="583.01" width="7.41" height="7.40" fill="#ff9e1d"/>
<rect x="158.81" y="583.01" width="7.41" height="7.40" fill="#f36e19"/>
<rect x="165.92" y="583.01" width="7.41" height="7.40" fill="#d85535"/>
<rect x="173.03" y="583.01" width="7.41" height="7.40" fill="#a63761"/>
<rect x="180.14" y="583.01" width="7.41" height="7.40" fill="#a43662"/>
<rect x="187.25" y="583.01" width="7.41" height="7.40" fill="#8e2f6f"/>
<rect x="194.36" y="583.01" width="7.41" height="7.40" fill="#6f267e"/>
<rect x="201.47" y="583.01" width="7.41" height="7.40" fill="#581f85"/>
<rect x="208.58" y="583.01" width="7.41" height="7.40" fill="#44186b"/>
<rect x="215.69" y="583.01" width="7.41" height="7.40" fill="#2f104e"/>
<rect x="222.80" y="583.01" width="7.41" height="7.40" fill="#2d104a"/>
<rect x="229.91" y="583.01" width="7.41" height="7.40" fill="#220c3a"/>
<rect x="237.02" y="583.01" width="7.41" height="7.40" fill="#2a0f47"/>
<rect x="244.13" y="583.01" width="7.41" height="7.40" fill="#230c3b"/>
<rect x="251.24" y="583.01" width="7.41" height="7.40" fill="#270e41"/>
<rect x="258.35" y="583.01" width="7.41" height="7.40" fill="#1f0b34"/>
<rect x="265.46" y="583.01" width="7.41" height="7.40" fill="#270e41"/>
<rect x="272.57" y="583.01" width="7.41" height="7.40" fill="#200b36"/>
<rect x="279.68" y="583.01" width="7.41" height="7.40" fill="#220c39"/>
<rect x="286.79" y="583.01" width="7.41" height="7.40" fill="#1f0b34"/>
<rect x="293.90" y="583.01" width="7.41" height="7.40" fill="#0d0417"/>
<rect x="301.01" y="583.01" width="7.41" height="7.40" fill="#130620"/>
<rect x="308.12" y="583.01" width="7.41" height="7.40" fill="#11051d"/>
<rect x="315.23" y="583.01" width="7.41" height="7.40" fill="#0f0519"/>
<rect x="322.34" y="583.01" width="7.41" height="7.40" fill="#06010c"/>
<rect x="329.45" y="583.01" width="7.41" height="7.40" fill="#07020d"/>
<rect x="336.56" y="583.01" width="7.41" height="7.40" fill="#06010b"/>
<rect x="343.67" y="583.01" width="7.41" height="7.40" fill="#050109"/>
<rect x="350.78" y="583.01" width="14.52" height="7.40" fill="#030006"/>
<rect x="365.00" y="583.01" width="7.41" height="7.40" fill="#030007"/>
<rect x="372.11" y="583.01" width="7.41" height="7.40" fill="#040108"/>
<rect x="379.22" y="583.01" width="7.41" height="7.40" fill="#020006"/>
<rect x="386.33" y="583.01" width="7.41" height="7.40" fill="#030007"/>
<rect x="393.44" y="583.01" width="7.41" height="7.40" fill="#040109"/>
<rect x="400.55" y="583.01" width="7.41" height="7.40" fill="#07020d"/>
<rect x="407.66" y="583.01" width="7.41" height="7.40" fill="#030006"/>
<rect x="414.77" y="583.01" width="7.41" height="7.40" fill="#150724"/>
<rect x="421.88" y="583.01" width="7.41" height="7.40" fill="#2e104d"/>
<rect x="428.99" y="583.01" width="7.11" height="7.40" fill="#521d7d"/>
<rect x="151.70" y="575.91" width="7.41" height="7.40" fill="#ffa01e"/>
<rect x="158.81" y="575.91" width="7.41" height="7.40" fill="#f56f16"/>
<rect x="165.92" y="575.91" width="7.41" height="7.40" fill="#d85635"/>
<rect x="173.03" y="575.91" width="7.41" height="7.40" fill="#b73d55"/>
<rect x="180.14" y="575.91" width="7.41" height="7.40" fill="#8a2e72"/>
<rect x="187.25" y="575.91" width="7.41" height="7.40" fill="#6d267f"/>
<rect x="194.36" y="575.91" width="7.41" height="7.40" fill="#5d2187"/>
<rect x="201.47" y="575.91" width="7.41" height="7.40" fill="#421767"/>
<rect x="208.58" y="575.91" width="7.41" height="7.40" fill="#341356"/>
<rect x="215.69" y="575.91" width="7.41" height="7.40" fill="#270d41"/>
<rect x="222.80" y="575.91" width="7.41" height="7.40" fill="#290e45"/>
<rect x="229.91" y="575.91" width="7.41" height="7.40" fill="#210b37"/>
<rect x="237.02" y="575.91" width="7.41" height="7.40" fill="#290e45"/>
<rect x="244.13" y="575.91" width="7.41" height="7.40" fill="#220c39"/>
<rect x="251.24" y="575.91" width="7.41" height="7.40" fill="#250d3f"/>
<rect x="258.35" y="575.91" width="7.41" height="7.40" fill="#1d0a31"/>
<rect x="265.46" y="575.91" width="7.41" height="7.40" fill="#240d3c"/>
<rect x="272.57" y="575.91" width="7.41" height="7.40" fill="#1d0a31"/>
<rect x="279.68" y="575.91" width="7.41" height="7.40" fill="#1d0a32"/>
<rect x="286.79" y="575.91" width="7.41" height="7.40" fill="#18082a"/>
<rect x="293.90" y="575.91" width="7.41" height="7.40" fill="#0a0312"/>
<rect x="301.01" y="575.91" width="7.41" height="7.40" fill="#0d0418"/>
<rect x="308.12" y="575.91" width="7.41" height="7.40" fill="#0b0314"/>
<rect x="315.23" y="575.91" width="7.41" height="7.40" fill="#090311"/>
<rect x="322.34" y="575.91" width="7.41" height="7.40" fill="#040109"/>
<rect x="329.45" y="575.91" width="7.41" height="7.40" fill="#050109"/>
<rect x="336.56" y="575.91" width="7.41" height="7.40" fill="#040108"/>
<rect x="343.67" y="575.91" width="7.41" height="7.40" fill="#030107"/>
<rect x="350.78" y="575.91" width="7.41" height="7.40" fill="#020006"/>
<rect x="357.89" y="575.91" width="7.41" height="7.40" fill="#030006"/>
<rect x="365.00" y="575.91" width="7.41" height="7.40" fill="#030007"/>
<rect x="372.11" y="575.91" width="7.41" height="7.40" fill="#040108"/>
<rect x="379.22" y="575.91" width="7.41" height="7.40" fill="#030006"/>
<rect x="386.33" y="575.91" width="7.41" height="7.40" fill="#030107"/>
<rect x="393.44" y="575.91" width="7.41" height="7.40" fill="#040109"/>
<rect x="400.55" y="575.91" width="7.41" height="7.40" fill="#08020e"/>
<rect x="407.66" y="575.91" width="7.41" height="7.40" fill="#030007"/>
<rect x="414.77" y="575.91" width="7.41" height="7.40" fill="#150724"/>
<rect x="421.88" y="575.91" width="7.41" height="7.40" fill="#341255"/>
<rect x="428.99" y="575.91" width="7.11" height="7.40" fill="#5b2088"/>
<rect x="151.70" y="568.81" width="7.41" height="7.40" fill="#ff9c1c"/>
<rect x="158.81" y="568.81" width="7.41" height="7.40" fill="#ef6b1e"/>
<rect x="165.92" y="568.81" width="7.41" height="7.40" fill="#d95635"/>
<rect x="173.03" y="568.81" width="7.41" height="7.40" fill="#cb4745"/>
<rect x="180.14" y="568.81" width="7.41" height="7.40" fill="#6a2581"/>
<rect x="187.25" y="568.81" width="7.41" height="7.40" fill="#602285"/>
<rect x="194.36" y="568.81" width="7.41" height="7.40" fill="#511d7c"/>
<rect x="201.47" y="568.81" width="7.41" height="7.40" fill="#2e104d"/>
<rect x="208.58" y="568.81" width="7.41" height="7.40" fill="#2d104b"/>
<rect x="215.69" y="568.81" width="7.41" height="7.40" fill="#240d3c"/>
<rect x="222.80" y="568.81" width="7.41" height="7.40" fill="#280e42"/>
<rect x="229.91" y="568.81" width="7.41" height="7.40" fill="#200b35"/>
<rect x="237.02" y="568.81" width="7.41" height="7.40" fill="#280e43"/>
<rect x="244.13" y="568.81" width="7.41" height="7.40" fill="#210b37"/>
<rect x="251.24" y="568.81" width="7.41" height="7.40" fill="#230c3b"/>
<rect x="258.35" y="568.81" width="7.41" height="7.40" fill="#1b092e"/>
<rect x="265.46" y="568.81" width="7.41" height="7.40" fill="#200b36"/>
<rect x="272.57" y="568.81" width="7.41" height="7.40" fill="#19092b"/>
<rect x="279.68" y="568.81" width="7.41" height="7.40" fill="#180829"/>
<rect x="286.79" y="568.81" width="7.41" height="7.40" fill="#12061f"/>
<rect x="293.90" y="568.81" width="7.41" height="7.40" fill="#07020e"/>
<rect x="301.01" y="568.81" width="7.41" height="7.40" fill="#090311"/>
<rect x="308.12" y="568.81" width="7.41" height="7.40" fill="#08020e"/>
<rect x="315.23" y="568.81" width="7.41" height="7.40" fill="#06020c"/>
<rect x="322.34" y="568.81" width="7.41" height="7.40" fill="#030007"/>
<rect x="329.45" y="568.81" width="7.41" height="7.40" fill="#030107"/>
<rect x="336.56" y="568.81" width="14.52" height="7.40" fill="#030007"/>
<rect x="350.78" y="568.81" width="7.41" height="7.40" fill="#020006"/>
<rect x="357.89" y="568.81" width="7.41" height="7.40" fill="#030006"/>
<rect x="365.00" y="568.81" width="7.41" height="7.40" fill="#030107"/>
<rect x="372.11" y="568.81" width="7.41" height="7.40" fill="#040109"/>
<rect x="379.22" y="568.81" width="7.41" height="7.40" fill="#030006"/>
<rect x="386.33" y="568.81" width="7.41" height="7.40" fill="#040108"/>
<rect x="393.44" y="568.81" width="7.41" height="7.40" fill="#05010a"/>
<rect x="400.55" y="568.81" width="7.41" height="7.40" fill="#090311"/>
<rect x="407.66" y="568.81" width="7.41" height="7.40" fill="#030007"/>
<rect x="414.77" y="568.81" width="7.41" height="7.40" fill="#150724"/>
<rect x="421.88" y="568.81" width="7.41" height="7.40" fill="#3c1560"/>
<rect x="428.99" y="568.81" width="7.11" height="7.40" fill="#6c2580"/>
<rect x="151.70" y="561.70" width="7.41" height="7.40" fill="#fe9419"/>
<rect x="158.81" y="561.70" width="7.41" height="7.40" fill="#e86627"/>
<rect x="165.92" y="561.70" width="7.41" height="7.40" fill="#d85535"/>
<rect x="173.03" y="561.70" width="7.41" height="7.40" fill="#d14e3d"/>
<rect x="180.14" y="561.70" width="7.41" height="7.40" fill="#602285"/>
<rect x="187.25" y="561.70" width="7.41" height="7.40" fill="#5c2087"/>
<rect x="194.36" y="561.70" width="7.41" height="7.40" fill="#411767"/>
<rect x="201.47" y="561.70" width="7.41" height="7.40" fill="#240d3d"/>
<rect x="208.58" y="561.70" width="7.41" height="7.40" fill="#2b0f47"/>
<rect x="215.69" y="561.70" width="7.41" height="7.40" fill="#230c3b"/>
<rect x="222.80" y="561.70" width="7.41" height="7.40" fill="#270e41"/>
<rect x="229.91" y="561.70" width="7.41" height="7.40" fill="#1f0b34"/>
<rect x="237.02" y="561.70" width="7.41" height="7.40" fill="#260d40"/>
<rect x="244.13" y="561.70" width="7.41" height="7.40" fill="#1f0b34"/>
<rect x="251.24" y="561.70" width="7.41" height="7.40" fill="#200b36"/>
<rect x="258.35" y="561.70" width="7.41" height="7.40" fill="#180828"/>
<rect x="265.46" y="561.70" width="7.41" height="7.40" fill="#1b092e"/>
<rect x="272.57" y="561.70" width="7.41" height="7.40" fill="#140722"/>
<rect x="279.68" y="561.70" width="7.41" height="7.40" fill="#12061f"/>
<rect x="286.79" y="561.70" width="7.41" height="7.40" fill="#0c0416"/>
<rect x="293.90" y="561.70" width="7.41" height="7.40" fill="#05010a"/>
<rect x="301.01" y="561.70" width="7.41" height="7.40" fill="#06020c"/>
<rect x="308.12" y="561.70" width="7.41" height="7.40" fill="#05010a"/>
<rect x="315.23" y="561.70" width="7.41" height="7.40" fill="#040109"/>
<rect x="322.34" y="561.70" width="7.41" height="7.40" fill="#030006"/>
<rect x="329.45" y="561.70" width="14.52" height="7.40" fill="#030007"/>
<rect x="343.67" y="561.70" width="7.41" height="7.40" fill="#040108"/>
<rect x="350.78" y="561.70" width="7.41" height="7.40" fill="#030006"/>
<rect x="357.89" y="561.70" width="7.41" height="7.40" fill="#030007"/>
<rect x="365.00" y="561.70" width="7.41" height="7.40" fill="#040108"/>
<rect x="372.11" y="561.70" width="7.41" height="7.40" fill="#05010a"/>
<rect x="379.22" y="561.70" width="7.41" height="7.40" fill="#030007"/>
<rect x="386.33" y="561.70" width="7.41" height="7.40" fill="#050109"/>
<rect x="393.44" y="561.70" width="7.41" height="7.40" fill="#06020c"/>
<rect x="400.55" y="561.70" width="7.41" height="7.40" fill="#0c0415"/>
<rect x="407.66" y="561.70" width="7.41" height="7.40" fill="#040108"/>
<rect x="414.77" y="561.70" width="7.41" height="7.40" fill="#1c0a30"/>
<rect x="421.88" y="561.70" width="7.41" height="7.40" fill="#491a72"/>
<rect x="428.99" y="561.70" width="7.11" height="7.40" fill="#8a2e72"/>
<rect x="151.70" y="554.60" width="7.41" height="7.40" fill="#fd9219"/>
<rect x="158.81" y="554.60" width="7.41" height="7.40" fill="#e4632b"/>
<rect x="165.92" y="554.60" width="7.41" height="7.40" fill="#d4503a"/>
<rect x="173.03" y="554.60" width="7.41" height="7.40" fill="#cd4942"/>
<rect x="180.14" y="554.60" width="7.41" height="7.40" fill="#5d2187"/>
<rect x="187.25" y="554.60" width="7.41" height="7.40" fill="#561e82"/>
<rect x="194.36" y="554.60" width="7.41" height="7.40" fill="#321252"/>
<rect x="201.47" y="554.60" width="7.41" height="7.40" fill="#210c38"/>
<rect x="208.58" y="554.60" width="7.41" height="7.40" fill="#290f45"/>
<rect x="215.69" y="554.60" width="7.41" height="7.40" fill="#220c39"/>
<rect x="222.80" y="554.60" width="7.41" height="7.40" fill="#250d3e"/>
<rect x="229.91" y="554.60" width="7.41" height="7.40" fill="#1d0a31"/>
<rect x="237.02" y="554.60" width="7.41" height="7.40" fill="#230c3b"/>
<rect x="244.13" y="554.60" width="7.41" height="7.40" fill="#1b092f"/>
<rect x="251.24" y="554.60" width="7.41" height="7.40" fill="#1b092e"/>
<rect x="258.35" y="554.60" width="7.41" height="7.40" fill="#140722"/>
<rect x="265.46" y="554.60" width="7.41" height="7.40" fill="#150724"/>
<rect x="272.57" y="554.60" width="7.41" height="7.40" fill="#0f051a"/>
<rect x="279.68" y="554.60" width="7.41" height="7.40" fill="#0d0417"/>
<rect x="286.79" y="554.60" width="7.41" height="7.40" fill="#08020f"/>
<rect x="293.90" y="554.60" width="7.41" height="7.40" fill="#040108"/>
<rect x="301.01" y="554.60" width="7.41" height="7.40" fill="#040109"/>
<rect x="308.12" y="554.60" width="14.52" height="7.40" fill="#040108"/>
<rect x="322.34" y="554.60" width="7.41" height="7.40" fill="#030006"/>
<rect x="329.45" y="554.60" width="7.41" height="7.40" fill="#030007"/>
<rect x="336.56" y="554.60" width="7.41" height="7.40" fill="#040108"/>
<rect x="343.67" y="554.60" width="7.41" height="7.40" fill="#050109"/>
<rect x="350.78" y="554.60" width="7.41" height="7.40" fill="#030007"/>
<rect x="357.89" y="554.60" width="7.41" height="7.40" fill="#040108"/>
<rect x="365.00" y="554.60" width="7.41" height="7.40" fill="#05010a"/>
<rect x="372.11" y="554.60" width="7.41" height="7.40" fill="#07020d"/>
<rect x="379.22" y="554.60" width="7.41" height="7.40" fill="#030107"/>
<rect x="386.33" y="554.60" width="7.41" height="7.40" fill="#06010b"/>
<rect x="393.44" y="554.60" width="7.41" height="7.40" fill="#090310"/>
<rect x="400.55" y="554.60" width="7.41" height="7.40" fill="#12061f"/>
<rect x="407.66" y="554.60" width="7.41" height="7.40" fill="#05010a"/>
<rect x="414.77" y="554.60" width="7.41" height="7.40" fill="#230c3b"/>
<rect x="421.88" y="554.60" width="7.41" height="7.40" fill="#5a2088"/>
<rect x="428.99" y="554.60" width="7.11" height="7.40" fill="#b43c57"/>
<rect x="151.70" y="547.50" width="7.41" height="7.40" fill="#fd9018"/>
<rect x="158.81" y="547.50" width="7.41" height="7.40" fill="#e06030"/>
<rect x="165.92" y="547.50" width="7.41" height="7.40" fill="#cb4745"/>
<rect x="173.03" y="547.50" width="7.41" height="7.40" fill="#b73d55"/>
<rect x="180.14" y="547.50" width="7.41" height="7.40" fill="#5b2088"/>
<rect x="187.25" y="547.50" width="7.41" height="7.40" fill="#46196d"/>
<rect x="194.36" y="547.50" width="7.41" height="7.40" fill="#2b0f48"/>
<rect x="201.47" y="547.50" width="7.41" height="7.40" fill="#200b36"/>
<rect x="208.58" y="547.50" width="7.41" height="7.40" fill="#280e43"/>
<rect x="215.69" y="547.50" width="7.41" height="7.40" fill="#210b37"/>
<rect x="222.80" y="547.50" width="7.41" height="7.40" fill="#230c3b"/>
<rect x="229.91" y="547.50" width="7.41" height="7.40" fill="#1b092d"/>
<rect x="237.02" y="547.50" width="7.41" height="7.40" fill="#1f0b35"/>
<rect x="244.13" y="547.50" width="7.41" height="7.40" fill="#180828"/>
<rect x="251.24" y="547.50" width="7.41" height="7.40" fill="#160826"/>
<rect x="258.35" y="547.50" width="7.41" height="7.40" fill="#0f051b"/>
<rect x="265.46" y="547.50" width="7.41" height="7.40" fill="#10051b"/>
<rect x="272.57" y="547.50" width="7.41" height="7.40" fill="#0b0313"/>
<rect x="279.68" y="547.50" width="7.41" height="7.40" fill="#090310"/>
<rect x="286.79" y="547.50" width="7.41" height="7.40" fill="#06010b"/>
<rect x="293.90" y="547.50" width="21.63" height="7.40" fill="#040108"/>
<rect x="315.23" y="547.50" width="7.41" height="7.40" fill="#05010a"/>
<rect x="322.34" y="547.50" width="7.41" height="7.40" fill="#030007"/>
<rect x="329.45" y="547.50" width="7.41" height="7.40" fill="#040109"/>
<rect x="336.56" y="547.50" width="7.41" height="7.40" fill="#05010a"/>
<rect x="343.67" y="547.50" width="7.41" height="7.40" fill="#07020d"/>
<rect x="350.78" y="547.50" width="7.41" height="7.40" fill="#040108"/>
<rect x="357.89" y="547.50" width="7.41" height="7.40" fill="#06010b"/>
<rect x="365.00" y="547.50" width="7.41" height="7.40" fill="#08020e"/>
<rect x="372.11" y="547.50" width="7.41" height="7.40" fill="#0b0314"/>
<rect x="379.22" y="547.50" width="7.41" height="7.40" fill="#05010a"/>
<rect x="386.33" y="547.50" width="7.41" height="7.40" fill="#090311"/>
<rect x="393.44" y="547.50" width="7.41" height="7.40" fill="#0f051a"/>
<rect x="400.55" y="547.50" width="7.41" height="7.40" fill="#200b35"/>
<rect x="407.66" y="547.50" width="7.41" height="7.40" fill="#07020d"/>
<rect x="414.77" y="547.50" width="7.41" height="7.40" fill="#230c3b"/>
<rect x="421.88" y="547.50" width="7.41" height="7.40" fill="#602285"/>
<rect x="428.99" y="547.50" width="7.11" height="7.40" fill="#d95634"/>
<rect x="151.70" y="540.40" width="7.41" height="7.40" fill="#fe971a"/>
<rect x="158.81" y="540.40" width="7.41" height="7.40" fill="#dc5a32"/>
<rect x="165.92" y="540.40" width="7.41" height="7.40" fill="#ba3e53"/>
<rect x="173.03" y="540.40" width="7.41" height="7.40" fill="#993368"/>
<rect x="180.14" y="540.40" width="7.41" height="7.40" fill="#521d7d"/>
<rect x="187.25" y="540.40" width="7.41" height="7.40" fill="#321253"/>
<rect x="194.36" y="540.40" width="7.41" height="7.40" fill="#290e44"/>
<rect x="201.47" y="540.40" width="7.41" height="7.40" fill="#1f0b35"/>
<rect x="208.58" y="540.40" width="7.41" height="7.40" fill="#270e41"/>
<rect x="215.69" y="540.40" width="7.41" height="7.40" fill="#1f0b34"/>
<rect x="222.80" y="540.40" width="7.41" height="7.40" fill="#200b36"/>
<rect x="229.91" y="540.40" width="7.41" height="7.40" fill="#180828"/>
<rect x="237.02" y="540.40" width="7.41" height="7.40" fill="#1b092d"/>
<rect x="244.13" y="540.40" width="7.41" height="7.40" fill="#130621"/>
<rect x="251.24" y="540.40" width="7.41" height="7.40" fill="#11061e"/>
<rect x="258.35" y="540.40" width="14.52" height="7.40" fill="#0b0314"/>
<rect x="272.57" y="540.40" width="7.41" height="7.40" fill="#08020e"/>
<rect x="279.68" y="540.40" width="7.41" height="7.40" fill="#06020c"/>
<rect x="286.79" y="540.40" width="7.41" height="7.40" fill="#050109"/>
<rect x="293.90" y="540.40" width="7.41" height="7.40" fill="#040108"/>
<rect x="301.01" y="540.40" width="7.41" height="7.40" fill="#040109"/>
<rect x="308.12" y="540.40" width="7.41" height="7.40" fill="#050109"/>
<rect x="315.23" y="540.40" width="7.41" height="7.40" fill="#06010b"/>
<rect x="322.34" y="540.40" width="7.41" height="7.40" fill="#040108"/>
<rect x="329.45" y="540.40" width="7.41" height="7.40" fill="#05010a"/>
<rect x="336.56" y="540.40" width="7.41" height="7.40" fill="#07020d"/>
<rect x="343.67" y="540.40" width="7.41" height="7.40" fill="#090310"/>
<rect x="350.78" y="540.40" width="7.41" height="7.40" fill="#050109"/>
<rect x="357.89" y="540.40" width="7.41" height="7.40" fill="#07020e"/>
<rect x="365.00" y="540.40" width="7.41" height="7.40" fill="#0a0312"/>
<rect x="372.11" y="540.40" width="7.41" height="7.40" fill="#0f051a"/>
<rect x="379.22" y="540.40" width="7.41" height="7.40" fill="#06010b"/>
<rect x="386.33" y="540.40" width="7.41" height="7.40" fill="#0c0416"/>
<rect x="393.44" y="540.40" width="7.41" height="7.40" fill="#140723"/>
<rect x="400.55" y="540.40" width="7.41" height="7.40" fill="#2c0f49"/>
<rect x="407.66" y="540.40" width="7.41" height="7.40" fill="#090311"/>
<rect x="414.77" y="540.40" width="7.41" height="7.40" fill="#290e44"/>
<rect x="421.88" y="540.40" width="7.41" height="7.40" fill="#6a2580"/>
<rect x="428.99" y="540.40" width="7.11" height="7.40" fill="#ea6725"/>
<rect x="151.70" y="533.29" width="7.41" height="7.40" fill="#ffa21f"/>
<rect x="158.81" y="533.29" width="7.41" height="7.40" fill="#d4503a"/>
<rect x="165.92" y="533.29" width="7.41" height="7.40" fill="#a43661"/>
<rect x="173.03" y="533.29" width="7.41" height="7.40" fill="#862d74"/>
<rect x="180.14" y="533.29" width="7.41" height="7.40" fill="#401766"/>
<rect x="187.25" y="533.29" width="7.41" height="7.40" fill="#280e43"/>
<rect x="194.36" y="533.29" width="7.41" height="7.40" fill="#280e42"/>
<rect x="201.47" y="533.29" width="7.41" height="7.40" fill="#1e0a33"/>
<rect x="208.58" y="533.29" width="7.41" height="7.40" fill="#250d3e"/>
<rect x="215.69" y="533.29" width="7.41" height="7.40" fill="#1c0a2f"/>
<rect x="222.80" y="533.29" width="7.41" height="7.40" fill="#1c0a30"/>
<rect x="229.91" y="533.29" width="7.41" height="7.40" fill="#140722"/>
<rect x="237.02" y="533.29" width="7.41" height="7.40" fill="#150724"/>
<rect x="244.13" y="533.29" width="7.41" height="7.40" fill="#0f051a"/>
<rect x="251.24" y="533.29" width="7.41" height="7.40" fill="#0d0416"/>
<rect x="258.35" y="533.29" width="14.52" height="7.40" fill="#08020f"/>
<rect x="272.57" y="533.29" width="7.41" height="7.40" fill="#06010b"/>
<rect x="279.68" y="533.29" width="7.41" height="7.40" fill="#05010a"/>
<rect x="286.79" y="533.29" width="7.41" height="7.40" fill="#040109"/>
<rect x="293.90" y="533.29" width="7.41" height="7.40" fill="#040108"/>
<rect x="301.01" y="533.29" width="7.41" height="7.40" fill="#05010a"/>
<rect x="308.12" y="533.29" width="7.41" height="7.40" fill="#06010b"/>
<rect x="315.23" y="533.29" width="7.41" height="7.40" fill="#07020e"/>
<rect x="322.34" y="533.29" width="7.41" height="7.40" fill="#040108"/>
<rect x="329.45" y="533.29" width="7.41" height="7.40" fill="#06020c"/>
<rect x="336.56" y="533.29" width="7.41" height="7.40" fill="#08020f"/>
<rect x="343.67" y="533.29" width="7.41" height="7.40" fill="#0b0314"/>
<rect x="350.78" y="533.29" width="7.41" height="7.40" fill="#06010b"/>
<rect x="357.89" y="533.29" width="7.41" height="7.40" fill="#090310"/>
<rect x="365.00" y="533.29" width="7.41" height="7.40" fill="#0d0416"/>
<rect x="372.11" y="533.29" width="7.41" height="7.40" fill="#140622"/>
<rect x="379.22" y="533.29" width="7.41" height="7.40" fill="#07020e"/>
<rect x="386.33" y="533.29" width="7.41" height="7.40" fill="#10051c"/>
<rect x="393.44" y="533.29" width="7.41" height="7.40" fill="#1b092d"/>
<rect x="400.55" y="533.29" width="7.41" height="7.40" fill="#3a155d"/>
<rect x="407.66" y="533.29" width="7.41" height="7.40" fill="#0c0415"/>
<rect x="414.77" y="533.29" width="7.41" height="7.40" fill="#2f114e"/>
<rect x="421.88" y="533.29" width="7.41" height="7.40" fill="#802b77"/>
<rect x="428.99" y="533.29" width="7.11" height="7.40" fill="#f97713"/>
<rect x="151.70" y="526.19" width="7.41" height="7.40" fill="#ffa822"/>
<rect x="158.81" y="526.19" width="7.41" height="7.40" fill="#bf404f"/>
<rect x="165.92" y="526.19" width="7.41" height="7.40" fill="#8f2f6f"/>
<rect x="173.03" y="526.19" width="7.41" height="7.40" fill="#71277d"/>
<rect x="180.14" y="526.19" width="7.41" height="7.40" fill="#321253"/>
<rect x="187.25" y="526.19" width="7.41" height="7.40" fill="#250d3d"/>
<rect x="194.36" y="526.19" width="7.41" height="7.40" fill="#270e41"/>
<rect x="201.47" y="526.19" width="7.41" height="7.40" fill="#1d0a31"/>
<rect x="208.58" y="526.19" width="7.41" height="7.40" fill="#220c39"/>
<rect x="215.69" y="526.19" width="7.41" height="7.40" fill="#180829"/>
<rect x="222.80" y="526.19" width="7.41" height="7.40" fill="#180828"/>
<rect x="229.91" y="526.19" width="14.52" height="7.40" fill="#10051c"/>
<rect x="244.13" y="526.19" width="7.41" height="7.40" fill="#0b0314"/>
<rect x="251.24" y="526.19" width="7.41" height="7.40" fill="#090311"/>
<rect x="258.35" y="526.19" width="7.41" height="7.40" fill="#07020c"/>
<rect x="265.46" y="526.19" width="7.41" height="7.40" fill="#06020c"/>
<rect x="272.57" y="526.19" width="14.52" height="7.40" fill="#05010a"/>
<rect x="286.79" y="526.19" width="14.52" height="7.40" fill="#050109"/>
<rect x="301.01" y="526.19" width="7.41" height="7.40" fill="#05010b"/>
<rect x="308.12" y="526.19" width="7.41" height="7.40" fill="#06020c"/>
<rect x="315.23" y="526.19" width="7.41" height="7.40" fill="#090210"/>
<rect x="322.34" y="526.19" width="7.41" height="7.40" fill="#050109"/>
<rect x="329.45" y="526.19" width="7.41" height="7.40" fill="#07020d"/>
<rect x="336.56" y="526.19" width="7.41" height="7.40" fill="#0a0312"/>
<rect x="343.67" y="526.19" width="7.41" height="7.40" fill="#0d0417"/>
<rect x="350.78" y="526.19" width="7.41" height="7.40" fill="#06020c"/>
<rect x="357.89" y="526.19" width="7.41" height="7.40" fill="#0b0313"/>
<rect x="365.00" y="526.19" width="7.41" height="7.40" fill="#0f051a"/>
<rect x="372.11" y="526.19" width="7.41" height="7.40" fill="#180828"/>
<rect x="379.22" y="526.19" width="7.41" height="7.40" fill="#090210"/>
<rect x="386.33" y="526.19" width="7.41" height="7.40" fill="#130621"/>
<rect x="393.44" y="526.19" width="7.41" height="7.40" fill="#200b37"/>
<rect x="400.55" y="526.19" width="7.41" height="7.40" fill="#47196f"/>
<rect x="407.66" y="526.19" width="7.41" height="7.40" fill="#0e0419"/>
<rect x="414.77" y="526.19" width="7.41" height="7.40" fill="#301150"/>
<rect x="421.88" y="526.19" width="7.41" height="7.40" fill="#94316c"/>
<rect x="428.99" y="526.19" width="7.11" height="7.40" fill="#fc8d17"/>
<rect x="151.70" y="519.09" width="7.41" height="7.40" fill="#ffad28"/>
<rect x="158.81" y="519.09" width="7.41" height="7.40" fill="#a43661"/>
<rect x="165.92" y="519.09" width="7.41" height="7.40" fill="#70267e"/>
<rect x="173.03" y="519.09" width="7.41" height="7.40" fill="#602285"/>
<rect x="180.14" y="519.09" width="7.41" height="7.40" fill="#2d104b"/>
<rect x="187.25" y="519.09" width="7.41" height="7.40" fill="#240c3c"/>
<rect x="194.36" y="519.09" width="7.41" height="7.40" fill="#260d3f"/>
<rect x="201.47" y="519.09" width="7.41" height="7.40" fill="#1b092d"/>
<rect x="208.58" y="519.09" width="7.41" height="7.40" fill="#1e0a32"/>
<rect x="215.69" y="519.09" width="7.41" height="7.40" fill="#140723"/>
<rect x="222.80" y="519.09" width="7.41" height="7.40" fill="#130620"/>
<rect x="229.91" y="519.09" width="7.41" height="7.40" fill="#0c0416"/>
<rect x="237.02" y="519.09" width="7.41" height="7.40" fill="#0c0415"/>
<rect x="244.13" y="519.09" width="7.41" height="7.40" fill="#08020f"/>
<rect x="251.24" y="519.09" width="7.41" height="7.40" fill="#07020d"/>
<rect x="258.35" y="519.09" width="7.41" height="7.40" fill="#06010b"/>
<rect x="265.46" y="519.09" width="7.41" height="7.40" fill="#05010b"/>
<rect x="272.57" y="519.09" width="28.74" height="7.40" fill="#05010a"/>
<rect x="301.01" y="519.09" width="7.41" height="7.40" fill="#06010b"/>
<rect x="308.12" y="519.09" width="7.41" height="7.40" fill="#07020d"/>
<rect x="315.23" y="519.09" width="7.41" height="7.40" fill="#090310"/>
<rect x="322.34" y="519.09" width="7.41" height="7.40" fill="#05010a"/>
<rect x="329.45" y="519.09" width="7.41" height="7.40" fill="#08020e"/>
<rect x="336.56" y="519.09" width="7.41" height="7.40" fill="#0a0313"/>
<rect x="343.67" y="519.09" width="7.41" height="7.40" fill="#0e0419"/>
<rect x="350.78" y="519.09" width="7.41" height="7.40" fill="#07020d"/>
<rect x="357.89" y="519.09" width="7.41" height="7.40" fill="#0b0314"/>
<rect x="365.00" y="519.09" width="7.41" height="7.40" fill="#10051c"/>
<rect x="372.11" y="519.09" width="7.41" height="7.40" fill="#19092b"/>
<rect x="379.22" y="519.09" width="7.41" height="7.40" fill="#090310"/>
<rect x="386.33" y="519.09" width="7.41" height="7.40" fill="#140723"/>
<rect x="393.44" y="519.09" width="7.41" height="7.40" fill="#220c3a"/>
<rect x="400.55" y="519.09" width="7.41" height="7.40" fill="#4b1b75"/>
<rect x="407.66" y="519.09" width="7.41" height="7.40" fill="#0f051a"/>
<rect x="414.77" y="519.09" width="7.41" height="7.40" fill="#331254"/>
<rect x="421.88" y="519.09" width="7.41" height="7.40" fill="#a03564"/>
<rect x="428.99" y="519.09" width="7.11" height="7.40" fill="#fd9219"/>
<rect x="151.70" y="511.99" width="7.41" height="7.40" fill="#ffaf2c"/>
<rect x="158.81" y="511.99" width="7.41" height="7.40" fill="#94316c"/>
<rect x="165.92" y="511.99" width="7.41" height="7.40" fill="#5c2087"/>
<rect x="173.03" y="511.99" width="7.41" height="7.40" fill="#521d7d"/>
<rect x="180.14" y="511.99" width="7.41" height="7.40" fill="#2c1049"/>
<rect x="187.25" y="511.99" width="7.41" height="7.40" fill="#230c3b"/>
<rect x="194.36" y="511.99" width="7.41" height="7.40" fill="#240d3d"/>
<rect x="201.47" y="511.99" width="7.41" height="7.40" fill="#180829"/>
<rect x="208.58" y="511.99" width="7.41" height="7.40" fill="#1a092b"/>
<rect x="215.69" y="511.99" width="7.41" height="7.40" fill="#10051c"/>
<rect x="222.80" y="511.99" width="7.41" height="7.40" fill="#0f051a"/>
<rect x="229.91" y="511.99" width="7.41" height="7.40" fill="#090311"/>
<rect x="237.02" y="511.99" width="7.41" height="7.40" fill="#090310"/>
<rect x="244.13" y="511.99" width="7.41" height="7.40" fill="#06020c"/>
<rect x="251.24" y="511.99" width="7.41" height="7.40" fill="#06010b"/>
<rect x="258.35" y="511.99" width="42.96" height="7.40" fill="#05010a"/>
<rect x="301.01" y="511.99" width="7.41" height="7.40" fill="#06010b"/>
<rect x="308.12" y="511.99" width="7.41" height="7.40" fill="#07020d"/>
<rect x="315.23" y="511.99" width="7.41" height="7.40" fill="#090311"/>
<rect x="322.34" y="511.99" width="7.41" height="7.40" fill="#05010a"/>
<rect x="329.45" y="511.99" width="7.41" height="7.40" fill="#08020e"/>
<rect x="336.56" y="511.99" width="7.41" height="7.40" fill="#0b0313"/>
<rect x="343.67" y="511.99" width="7.41" height="7.40" fill="#0e0519"/>
<rect x="350.78" y="511.99" width="7.41" height="7.40" fill="#07020d"/>
<rect x="357.89" y="511.99" width="7.41" height="7.40" fill="#0b0314"/>
<rect x="365.00" y="511.99" width="7.41" height="7.40" fill="#10051c"/>
<rect x="372.11" y="511.99" width="7.41" height="7.40" fill="#1a092c"/>
<rect x="379.22" y="511.99" width="7.41" height="7.40" fill="#090311"/>
<rect x="386.33" y="511.99" width="7.41" height="7.40" fill="#150724"/>
<rect x="393.44" y="511.99" width="7.41" height="7.40" fill="#230c3b"/>
<rect x="400.55" y="511.99" width="7.41" height="7.40" fill="#4d1b77"/>
<rect x="407.66" y="511.99" width="7.41" height="7.40" fill="#0f051b"/>
<rect x="414.77" y="511.99" width="7.41" height="7.40" fill="#371359"/>
<rect x="421.88" y="511.99" width="7.41" height="7.40" fill="#a53761"/>
<rect x="428.99" y="511.99" width="7.11" height="7.40" fill="#fe9419"/>
<rect x="151.70" y="504.88" width="7.41" height="7.40" fill="#ffaf2c"/>
<rect x="158.81" y="504.88" width="7.41" height="7.40" fill="#882d73"/>
<rect x="165.92" y="504.88" width="7.41" height="7.40" fill="#521d7d"/>
<rect x="173.03" y="504.88" width="7.41" height="7.40" fill="#3d1661"/>
<rect x="180.14" y="504.88" width="7.41" height="7.40" fill="#2d104a"/>
<rect x="187.25" y="504.88" width="14.52" height="7.40" fill="#220c3a"/>
<rect x="201.47" y="504.88" width="7.41" height="7.40" fill="#150724"/>
<rect x="208.58" y="504.88" width="7.41" height="7.40" fill="#150725"/>
<rect x="215.69" y="504.88" width="7.41" height="7.40" fill="#0d0417"/>
<rect x="222.80" y="504.88" width="7.41" height="7.40" fill="#0c0415"/>
<rect x="229.91" y="504.88" width="14.52" height="7.40" fill="#07020e"/>
<rect x="244.13" y="504.88" width="7.41" height="7.40" fill="#06010b"/>
<rect x="251.24" y="504.88" width="50.07" height="7.40" fill="#05010a"/>
<rect x="301.01" y="504.88" width="7.41" height="7.40" fill="#06010b"/>
<rect x="308.12" y="504.88" width="7.41" height="7.40" fill="#07020d"/>
<rect x="315.23" y="504.88" width="7.41" height="7.40" fill="#090311"/>
<rect x="322.34" y="504.88" width="7.41" height="7.40" fill="#05010a"/>
<rect x="329.45" y="504.88" width="7.41" height="7.40" fill="#08020f"/>
<rect x="336.56" y="504.88" width="7.41" height="7.40" fill="#0b0313"/>
<rect x="343.67" y="504.88" width="7.41" height="7.40" fill="#0f051a"/>
<rect x="350.78" y="504.88" width="7.41" height="7.40" fill="#07020d"/>
<rect x="357.89" y="504.88" width="7.41" height="7.40" fill="#0c0415"/>
<rect x="365.00" y="504.88" width="7.41" height="7.40" fill="#11051d"/>
<rect x="372.11" y="504.88" width="7.41" height="7.40" fill="#1a092d"/>
<rect x="379.22" y="504.88" width="7.41" height="7.40" fill="#090311"/>
<rect x="386.33" y="504.88" width="7.41" height="7.40" fill="#160725"/>
<rect x="393.44" y="504.88" width="7.41" height="7.40" fill="#240d3d"/>
<rect x="400.55" y="504.88" width="7.41" height="7.40" fill="#501c7a"/>
<rect x="407.66" y="504.88" width="7.41" height="7.40" fill="#10051b"/>
<rect x="414.77" y="504.88" width="7.41" height="7.40" fill="#39145c"/>
<rect x="421.88" y="504.88" width="7.41" height="7.40" fill="#a63760"/>
<rect x="428.99" y="504.88" width="7.11" height="7.40" fill="#fe971a"/>
<rect x="151.70" y="497.78" width="7.41" height="7.40" fill="#ffaf2c"/>
<rect x="158.81" y="497.78" width="7.41" height="7.40" fill="#822c76"/>
<rect x="165.92" y="497.78" width="7.41" height="7.40" fill="#411767"/>
<rect x="173.03" y="497.78" width="7.41" height="7.40" fill="#2b0f48"/>
<rect x="180.14" y="497.78" width="7.41" height="7.40" fill="#2d104b"/>
<rect x="187.25" y="497.78" width="7.41" height="7.40" fill="#210c38"/>
<rect x="194.36" y="497.78" width="7.41" height="7.40" fill="#200b36"/>
<rect x="201.47" y="497.78" width="7.41" height="7.40" fill="#12061e"/>
<rect x="208.58" y="497.78" width="7.41" height="7.40" fill="#12061f"/>
<rect x="215.69" y="497.78" width="7.41" height="7.40" fill="#0b0313"/>
<rect x="222.80" y="497.78" width="7.41" height="7.40" fill="#0a0313"/>
<rect x="229.91" y="497.78" width="14.52" height="7.40" fill="#07020d"/>
<rect x="244.13" y="497.78" width="57.18" height="7.40" fill="#05010a"/>
<rect x="301.01" y="497.78" width="7.41" height="7.40" fill="#06020c"/>
<rect x="308.12" y="497.78" width="7.41" height="7.40" fill="#07020d"/>
<rect x="315.23" y="497.78" width="7.41" height="7.40" fill="#0a0311"/>
<rect x="322.34" y="497.78" width="7.41" height="7.40" fill="#05010a"/>
<rect x="329.45" y="497.78" width="7.41" height="7.40" fill="#08020f"/>
<rect x="336.56" y="497.78" width="7.41" height="7.40" fill="#0b0314"/>
<rect x="343.67" y="497.78" width="7.41" height="7.40" fill="#0f051b"/>
<rect x="350.78" y="497.78" width="7.41" height="7.40" fill="#07020d"/>
<rect x="357.89" y="497.78" width="7.41" height="7.40" fill="#0c0416"/>
<rect x="365.00" y="497.78" width="7.41" height="7.40" fill="#11061e"/>
<rect x="372.11" y="497.78" width="7.41" height="7.40" fill="#1b092e"/>
<rect x="379.22" y="497.78" width="7.41" height="7.40" fill="#0a0311"/>
<rect x="386.33" y="497.78" width="7.41" height="7.40" fill="#160826"/>
<rect x="393.44" y="497.78" width="7.41" height="7.40" fill="#260d3f"/>
<rect x="400.55" y="497.78" width="7.41" height="7.40" fill="#531e7f"/>
<rect x="407.66" y="497.78" width="7.41" height="7.40" fill="#10051c"/>
<rect x="414.77" y="497.78" width="7.41" height="7.40" fill="#39145c"/>
<rect x="421.88" y="497.78" width="7.41" height="7.40" fill="#a73760"/>
<rect x="428.99" y="497.78" width="7.11" height="7.40" fill="#ff9b1c"/>
<rect x="151.70" y="490.68" width="7.41" height="7.40" fill="#ffaf2c"/>
<rect x="158.81" y="490.68" width="7.41" height="7.40" fill="#7e2b77"/>
<rect x="165.92" y="490.68" width="7.41" height="7.40" fill="#341255"/>
<rect x="173.03" y="490.68" width="7.41" height="7.40" fill="#220c39"/>
<rect x="180.14" y="490.68" width="7.41" height="7.40" fill="#2d104b"/>
<rect x="187.25" y="490.68" width="7.41" height="7.40" fill="#200b36"/>
<rect x="194.36" y="490.68" width="7.41" height="7.40" fill="#1d0a30"/>
<rect x="201.47" y="490.68" width="7.41" height="7.40" fill="#0f051a"/>
<rect x="208.58" y="490.68" width="7.41" height="7.40" fill="#10051b"/>
<rect x="215.69" y="490.68" width="7.41" height="7.40" fill="#0a0311"/>
<rect x="222.80" y="490.68" width="7.41" height="7.40" fill="#0a0312"/>
<rect x="229.91" y="490.68" width="7.41" height="7.40" fill="#06020c"/>
<rect x="237.02" y="490.68" width="7.41" height="7.40" fill="#07020e"/>
<rect x="244.13" y="490.68" width="57.18" height="7.40" fill="#05010a"/>
<rect x="301.01" y="490.68" width="7.41" height="7.40" fill="#06020c"/>
<rect x="308.12" y="490.68" width="7.41" height="7.40" fill="#07020e"/>
<rect x="315.23" y="490.68" width="7.41" height="7.40" fill="#0a0312"/>
<rect x="322.34" y="490.68" width="7.41" height="7.40" fill="#05010a"/>
<rect x="329.45" y="490.68" width="7.41" height="7.40" fill="#08020f"/>
<rect x="336.56" y="490.68" width="7.41" height="7.40" fill="#0c0415"/>
<rect x="343.67" y="490.68" width="7.41" height="7.40" fill="#10051b"/>
<rect x="350.78" y="490.68" width="7.41" height="7.40" fill="#07020e"/>
<rect x="357.89" y="490.68" width="7.41" height="7.40" fill="#0d0416"/>
<rect x="365.00" y="490.68" width="7.41" height="7.40" fill="#12061f"/>
<rect x="372.11" y="490.68" width="7.41" height="7.40" fill="#1c0a30"/>
<rect x="379.22" y="490.68" width="7.41" height="7.40" fill="#0a0312"/>
<rect x="386.33" y="490.68" width="7.41" height="7.40" fill="#170827"/>
<rect x="393.44" y="490.68" width="7.41" height="7.40" fill="#270e41"/>
<rect x="400.55" y="490.68" width="7.41" height="7.40" fill="#561f83"/>
<rect x="407.66" y="490.68" width="7.41" height="7.40" fill="#11051d"/>
<rect x="414.77" y="490.68" width="7.41" height="7.40" fill="#39145d"/>
<rect x="421.88" y="490.68" width="7.41" height="7.40" fill="#a73760"/>
<rect x="428.99" y="490.68" width="7.11" height="7.40" fill="#ff9e1d"/>
<rect x="151.70" y="483.58" width="7.41" height="7.40" fill="#ffaf2c"/>
<rect x="158.81" y="483.58" width="7.41" height="7.40" fill="#7d2a78"/>
<rect x="165.92" y="483.58" width="7.41" height="7.40" fill="#2b0f48"/>
<rect x="173.03" y="483.58" width="7.41" height="7.40" fill="#1b092d"/>
<rect x="180.14" y="483.58" width="7.41" height="7.40" fill="#2c0f49"/>
<rect x="187.25" y="483.58" width="7.41" height="7.40" fill="#1d0a32"/>
<rect x="194.36" y="483.58" width="7.41" height="7.40" fill="#19092b"/>
<rect x="201.47" y="483.58" width="7.41" height="7.40" fill="#0c0415"/>
<rect x="208.58" y="483.58" width="7.41" height="7.40" fill="#0e0519"/>
<rect x="215.69" y="483.58" width="7.41" height="7.40" fill="#090310"/>
<rect x="222.80" y="483.58" width="7.41" height="7.40" fill="#0a0312"/>
<rect x="229.91" y="483.58" width="7.41" height="7.40" fill="#06020c"/>
<rect x="237.02" y="483.58" width="7.41" height="7.40" fill="#07020e"/>
<rect x="244.13" y="483.58" width="57.18" height="7.40" fill="#05010a"/>
<rect x="301.01" y="483.58" width="7.41" height="7.40" fill="#06020c"/>
<rect x="308.12" y="483.58" width="7.41" height="7.40" fill="#07020e"/>
<rect x="315.23" y="483.58" width="7.41" height="7.40" fill="#0a0312"/>
<rect x="322.34" y="483.58" width="7.41" height="7.40" fill="#05010a"/>
<rect x="329.45" y="483.58" width="7.41" height="7.40" fill="#080210"/>
<rect x="336.56" y="483.58" width="7.41" height="7.40" fill="#0c0415"/>
<rect x="343.67" y="483.58" width="7.41" height="7.40" fill="#10051c"/>
<rect x="350.78" y="483.58" width="7.41" height="7.40" fill="#07020e"/>
<rect x="357.89" y="483.58" width="7.41" height="7.40" fill="#0d0417"/>
<rect x="365.00" y="483.58" width="7.41" height="7.40" fill="#12061f"/>
<rect x="372.11" y="483.58" width="7.41" height="7.40" fill="#1d0a31"/>
<rect x="379.22" y="483.58" width="7.41" height="7.40" fill="#0a0312"/>
<rect x="386.33" y="483.58" width="7.41" height="7.40" fill="#180828"/>
<rect x="393.44" y="483.58" width="7.41" height="7.40" fill="#280e43"/>
<rect x="400.55" y="483.58" width="7.41" height="7.40" fill="#581f85"/>
<rect x="407.66" y="483.58" width="7.41" height="7.40" fill="#11061e"/>
<rect x="414.77" y="483.58" width="7.41" height="7.40" fill="#3a145d"/>
<rect x="421.88" y="483.58" width="7.41" height="7.40" fill="#a73760"/>
<rect x="428.99" y="483.58" width="7.11" height="7.40" fill="#ff9f1d"/>
<rect x="151.70" y="476.47" width="7.41" height="7.40" fill="#ffaf2c"/>
<rect x="158.81" y="476.47" width="7.41" height="7.40" fill="#7d2a78"/>
<rect x="165.92" y="476.47" width="7.41" height="7.40" fill="#260d3f"/>
<rect x="173.03" y="476.47" width="7.41" height="7.40" fill="#150724"/>
<rect x="180.14" y="476.47" width="7.41" height="7.40" fill="#2a0f46"/>
<rect x="187.25" y="476.47" width="7.41" height="7.40" fill="#1a092d"/>
<rect x="194.36" y="476.47" width="7.41" height="7.40" fill="#160726"/>
<rect x="201.47" y="476.47" width="7.41" height="7.40" fill="#0a0313"/>
<rect x="208.58" y="476.47" width="7.41" height="7.40" fill="#0e0418"/>
<rect x="215.69" y="476.47" width="7.41" height="7.40" fill="#090210"/>
<rect x="222.80" y="476.47" width="7.41" height="7.40" fill="#0a0312"/>
<rect x="229.91" y="476.47" width="7.41" height="7.40" fill="#06020c"/>
<rect x="237.02" y="476.47" width="7.41" height="7.40" fill="#07020e"/>
<rect x="244.13" y="476.47" width="57.18" height="7.40" fill="#05010a"/>
<rect x="301.01" y="476.47" width="7.41" height="7.40" fill="#06020c"/>
<rect x="308.12" y="476.47" width="7.41" height="7.40" fill="#07020e"/>
<rect x="315.23" y="476.47" width="7.41" height="7.40" fill="#0a0312"/>
<rect x="322.34" y="476.47" width="7.41" height="7.40" fill="#05010a"/>
<rect x="329.45" y="476.47" width="7.41" height="7.40" fill="#080210"/>
<rect x="336.56" y="476.47" width="7.41" height="7.40" fill="#0c0415"/>
<rect x="343.67" y="476.47" width="7.41" height="7.40" fill="#10051c"/>
<rect x="350.78" y="476.47" width="7.41" height="7.40" fill="#07020e"/>
<rect x="357.89" y="476.47" width="7.41" height="7.40" fill="#0d0417"/>
<rect x="365.00" y="476.47" width="7.41" height="7.40" fill="#12061f"/>
<rect x="372.11" y="476.47" width="7.41" height="7.40" fill="#1d0a31"/>
<rect x="379.22" y="476.47" width="7.41" height="7.40" fill="#0a0312"/>
<rect x="386.33" y="476.47" width="7.41" height="7.40" fill="#180828"/>
<rect x="393.44" y="476.47" width="7.41" height="7.40" fill="#280e43"/>
<rect x="400.55" y="476.47" width="7.41" height="7.40" fill="#581f85"/>
<rect x="407.66" y="476.47" width="7.41" height="7.40" fill="#11061e"/>
<rect x="414.77" y="476.47" width="7.41" height="7.40" fill="#3a155d"/>
<rect x="421.88" y="476.47" width="7.41" height="7.40" fill="#a73760"/>
<rect x="428.99" y="476.47" width="7.11" height="7.40" fill="#ff9f1d"/>
<rect x="151.70" y="469.37" width="7.41" height="7.40" fill="#ffaf2c"/>
<rect x="158.81" y="469.37" width="7.41" height="7.40" fill="#7d2a78"/>
<rect x="165.92" y="469.37" width="7.41" height="7.40" fill="#230c3b"/>
<rect x="173.03" y="469.37" width="7.41" height="7.40" fill="#12061f"/>
<rect x="180.14" y="469.37" width="7.41" height="7.40" fill="#270e42"/>
<rect x="187.25" y="469.37" width="7.41" height="7.40" fill="#170828"/>
<rect x="194.36" y="469.37" width="7.41" height="7.40" fill="#140722"/>
<rect x="201.47" y="469.37" width="7.41" height="7.40" fill="#090311"/>
<rect x="208.58" y="469.37" width="7.41" height="7.40" fill="#0d0417"/>
<rect x="215.69" y="469.37" width="7.41" height="7.40" fill="#090210"/>
<rect x="222.80" y="469.37" width="7.41" height="7.40" fill="#0a0312"/>
<rect x="229.91" y="469.37" width="7.41" height="7.40" fill="#06020c"/>
<rect x="237.02" y="469.37" width="7.41" height="7.40" fill="#07020e"/>
<rect x="244.13" y="469.37" width="57.18" height="7.40" fill="#05010a"/>
<rect x="301.01" y="469.37" width="7.41" height="7.40" fill="#06020c"/>
<rect x="308.12" y="469.37" width="7.41" height="7.40" fill="#07020e"/>
<rect x="315.23" y="469.37" width="7.41" height="7.40" fill="#0a0312"/>
<rect x="322.34" y="469.37" width="7.41" height="7.40" fill="#05010a"/>
<rect x="329.45" y="469.37" width="7.41" height="7.40" fill="#080210"/>
<rect x="336.56" y="469.37" width="7.41" height="7.40" fill="#0c0415"/>
<rect x="343.67" y="469.37" width="7.41" height="7.40" fill="#10051c"/>
<rect x="350.78" y="469.37" width="7.41" height="7.40" fill="#07020e"/>
<rect x="357.89" y="469.37" width="7.41" height="7.40" fill="#0d0417"/>
<rect x="365.00" y="469.37" width="7.41" height="7.40" fill="#12061f"/>
<rect x="372.11" y="469.37" width="7.41" height="7.40" fill="#1d0a31"/>
<rect x="379.22" y="469.37" width="7.41" height="7.40" fill="#0a0312"/>
<rect x="386.33" y="469.37" width="7.41" height="7.40" fill="#180828"/>
<rect x="393.44" y="469.37" width="7.41" height="7.40" fill="#280e43"/>
<rect x="400.55" y="469.37" width="7.41" height="7.40" fill="#581f86"/>
<rect x="407.66" y="469.37" width="7.41" height="7.40" fill="#11061e"/>
<rect x="414.77" y="469.37" width="7.41" height="7.40" fill="#3a155d"/>
<rect x="421.88" y="469.37" width="7.41" height="7.40" fill="#a73760"/>
<rect x="428.99" y="469.37" width="7.11" height="7.40" fill="#ff9f1e"/>
<rect x="151.70" y="462.27" width="7.41" height="7.40" fill="#ffaf2c"/>
<rect x="158.81" y="462.27" width="7.41" height="7.40" fill="#7d2a78"/>
<rect x="165.92" y="462.27" width="7.41" height="7.40" fill="#230c3b"/>
<rect x="173.03" y="462.27" width="7.41" height="7.40" fill="#11051d"/>
<rect x="180.14" y="462.27" width="7.41" height="7.40" fill="#240d3c"/>
<rect x="187.25" y="462.27" width="7.41" height="7.40" fill="#140722"/>
<rect x="194.36" y="462.27" width="7.41" height="7.40" fill="#120620"/>
<rect x="201.47" y="462.27" width="7.41" height="7.40" fill="#090310"/>
<rect x="208.58" y="462.27" width="7.41" height="7.40" fill="#0d0417"/>
<rect x="215.69" y="462.27" width="7.41" height="7.40" fill="#090210"/>
<rect x="222.80" y="462.27" width="7.41" height="7.40" fill="#0a0312"/>
<rect x="229.91" y="462.27" width="7.41" height="7.40" fill="#06020c"/>
<rect x="237.02" y="462.27" width="7.41" height="7.40" fill="#07020e"/>
<rect x="244.13" y="462.27" width="57.18" height="7.40" fill="#05010a"/>
<rect x="301.01" y="462.27" width="7.41" height="7.40" fill="#06020c"/>
<rect x="308.12" y="462.27" width="7.41" height="7.40" fill="#07020e"/>
<rect x="315.23" y="462.27" width="7.41" height="7.40" fill="#0a0312"/>
<rect x="322.34" y="462.27" width="7.41" height="7.40" fill="#05010a"/>
<rect x="329.45" y="462.27" width="7.41" height="7.40" fill="#090210"/>
<rect x="336.56" y="462.27" width="7.41" height="7.40" fill="#0c0415"/>
<rect x="343.67" y="462.27" width="7.41" height="7.40" fill="#10051c"/>
<rect x="350.78" y="462.27" width="7.41" height="7.40" fill="#07020e"/>
<rect x="357.89" y="462.27" width="7.41" height="7.40" fill="#0d0417"/>
<rect x="365.00" y="462.27" width="7.41" height="7.40" fill="#120620"/>
<rect x="372.11" y="462.27" width="7.41" height="7.40" fill="#1d0a31"/>
<rect x="379.22" y="462.27" width="7.41" height="7.40" fill="#0a0312"/>
<rect x="386.33" y="462.27" width="7.41" height="7.40" fill="#180828"/>
<rect x="393.44" y="462.27" width="7.41" height="7.40" fill="#280e43"/>
<rect x="400.55" y="462.27" width="7.41" height="7.40" fill="#581f86"/>
<rect x="407.66" y="462.27" width="7.41" height="7.40" fill="#11061e"/>
<rect x="414.77" y="462.27" width="7.41" height="7.40" fill="#3a155e"/>
<rect x="421.88" y="462.27" width="7.41" height="7.40" fill="#a73760"/>
<rect x="428.99" y="462.27" width="7.11" height="7.40" fill="#ff9f1e"/>
<rect x="151.70" y="455.17" width="7.41" height="7.40" fill="#ffaf2c"/>
<rect x="158.81" y="455.17" width="7.41" height="7.40" fill="#7d2a78"/>
<rect x="165.92" y="455.17" width="7.41" height="7.40" fill="#230c3a"/>
<rect x="173.03" y="455.17" width="7.41" height="7.40" fill="#10051b"/>
<rect x="180.14" y="455.17" width="7.41" height="7.40" fill="#210b37"/>
<rect x="187.25" y="455.17" width="7.41" height="7.40" fill="#11061e"/>
<rect x="194.36" y="455.17" width="7.41" height="7.40" fill="#12061e"/>
<rect x="201.47" y="455.17" width="7.41" height="7.40" fill="#090210"/>
<rect x="208.58" y="455.17" width="7.41" height="7.40" fill="#0d0417"/>
<rect x="215.69" y="455.17" width="7.41" height="7.40" fill="#090210"/>
<rect x="222.80" y="455.17" width="7.41" height="7.40" fill="#0a0312"/>
<rect x="229.91" y="455.17" width="7.41" height="7.40" fill="#06020c"/>
<rect x="237.02" y="455.17" width="7.41" height="7.40" fill="#08020e"/>
<rect x="244.13" y="455.17" width="57.18" height="7.40" fill="#05010a"/>
<rect x="301.01" y="455.17" width="7.41" height="7.40" fill="#06020c"/>
<rect x="308.12" y="455.17" width="7.41" height="7.40" fill="#07020e"/>
<rect x="315.23" y="455.17" width="7.41" height="7.40" fill="#0a0312"/>
<rect x="322.34" y="455.17" width="7.41" height="7.40" fill="#05010a"/>
<rect x="329.45" y="455.17" width="7.41" height="7.40" fill="#090210"/>
<rect x="336.56" y="455.17" width="7.41" height="7.40" fill="#0c0415"/>
<rect x="343.67" y="455.17" width="7.41" height="7.40" fill="#10051c"/>
<rect x="350.78" y="455.17" width="7.41" height="7.40" fill="#07020e"/>
<rect x="357.89" y="455.17" width="7.41" height="7.40" fill="#0d0417"/>
<rect x="365.00" y="455.17" width="7.41" height="7.40" fill="#120620"/>
<rect x="372.11" y="455.17" width="7.41" height="7.40" fill="#1d0a31"/>
<rect x="379.22" y="455.17" width="7.41" height="7.40" fill="#0a0312"/>
<rect x="386.33" y="455.17" width="7.41" height="7.40" fill="#180828"/>
<rect x="393.44" y="455.17" width="7.41" height="7.40" fill="#280e43"/>
<rect x="400.55" y="455.17" width="7.41" height="7.40" fill="#591f86"/>
<rect x="407.66" y="455.17" width="7.41" height="7.40" fill="#11061e"/>
<rect x="414.77" y="455.17" width="7.41" height="7.40" fill="#3a155e"/>
<rect x="421.88" y="455.17" width="7.41" height="7.40" fill="#a73760"/>
<rect x="428.99" y="455.17" width="7.11" height="7.40" fill="#ff9f1e"/>
<rect x="151.70" y="448.06" width="7.41" height="7.40" fill="#ffaf2c"/>
<rect x="158.81" y="448.06" width="7.41" height="7.40" fill="#7d2a78"/>
<rect x="165.92" y="448.06" width="7.41" height="7.40" fill="#230c3a"/>
<rect x="173.03" y="448.06" width="7.41" height="7.40" fill="#0f051a"/>
<rect x="180.14" y="448.06" width="7.41" height="7.40" fill="#1e0a33"/>
<rect x="187.25" y="448.06" width="7.41" height="7.40" fill="#0f051b"/>
<rect x="194.36" y="448.06" width="7.41" height="7.40" fill="#11061e"/>
<rect x="201.47" y="448.06" width="7.41" height="7.40" fill="#090210"/>
<rect x="208.58" y="448.06" width="7.41" height="7.40" fill="#0d0417"/>
<rect x="215.69" y="448.06" width="7.41" height="7.40" fill="#090210"/>
<rect x="222.80" y="448.06" width="7.41" height="7.40" fill="#0a0312"/>
<rect x="229.91" y="448.06" width="7.41" height="7.40" fill="#06020c"/>
<rect x="237.02" y="448.06" width="7.41" height="7.40" fill="#08020e"/>
<rect x="244.13" y="448.06" width="57.18" height="7.40" fill="#05010a"/>
<rect x="301.01" y="448.06" width="7.41" height="7.40" fill="#06020c"/>
<rect x="308.12" y="448.06" width="7.41" height="7.40" fill="#07020e"/>
<rect x="315.23" y="448.06" width="7.41" height="7.40" fill="#0a0312"/>
<rect x="322.34" y="448.06" width="7.41" height="7.40" fill="#05010a"/>
<rect x="329.45" y="448.06" width="7.41" height="7.40" fill="#090210"/>
<rect x="336.56" y="448.06" width="7.41" height="7.40" fill="#0c0415"/>
<rect x="343.67" y="448.06" width="7.41" height="7.40" fill="#10051c"/>
<rect x="350.78" y="448.06" width="7.41" height="7.40" fill="#07020e"/>
<rect x="357.89" y="448.06" width="7.41" height="7.40" fill="#0d0417"/>
<rect x="365.00" y="448.06" width="7.41" height="7.40" fill="#120620"/>
<rect x="372.11" y="448.06" width="7.41" height="7.40" fill="#1d0a31"/>
<rect x="379.22" y="448.06" width="7.41" height="7.40" fill="#0a0312"/>
<rect x="386.33" y="448.06" width="7.41" height="7.40" fill="#180829"/>
<rect x="393.44" y="448.06" width="7.41" height="7.40" fill="#280e43"/>
<rect x="400.55" y="448.06" width="7.41" height="7.40" fill="#592086"/>
<rect x="407.66" y="448.06" width="7.41" height="7.40" fill="#11061e"/>
<rect x="414.77" y="448.06" width="7.41" height="7.40" fill="#3b155e"/>
<rect x="421.88" y="448.06" width="7.41" height="7.40" fill="#a73760"/>
<rect x="428.99" y="448.06" width="7.11" height="7.40" fill="#ffa01e"/>
<rect x="151.70" y="440.96" width="7.41" height="7.40" fill="#ffaf2c"/>
<rect x="158.81" y="440.96" width="7.41" height="7.40" fill="#7d2a78"/>
<rect x="165.92" y="440.96" width="7.41" height="7.40" fill="#230c3a"/>
<rect x="173.03" y="440.96" width="7.41" height="7.40" fill="#0e0419"/>
<rect x="180.14" y="440.96" width="7.41" height="7.40" fill="#1c0a2f"/>
<rect x="187.25" y="440.96" width="7.41" height="7.40" fill="#0e0419"/>
<rect x="194.36" y="440.96" width="7.41" height="7.40" fill="#11061d"/>
<rect x="201.47" y="440.96" width="7.41" height="7.40" fill="#090210"/>
<rect x="208.58" y="440.96" width="7.41" height="7.40" fill="#0d0417"/>
<rect x="215.69" y="440.96" width="7.41" height="7.40" fill="#090210"/>
<rect x="222.80" y="440.96" width="7.41" height="7.40" fill="#0a0312"/>
<rect x="229.91" y="440.96" width="7.41" height="7.40" fill="#06020c"/>
<rect x="237.02" y="440.96" width="7.41" height="7.40" fill="#08020e"/>
<rect x="244.13" y="440.96" width="57.18" height="7.40" fill="#05010a"/>
<rect x="301.01" y="440.96" width="7.41" height="7.40" fill="#06020c"/>
<rect x="308.12" y="440.96" width="7.41" height="7.40" fill="#07020e"/>
<rect x="315.23" y="440.96" width="7.41" height="7.40" fill="#0a0312"/>
<rect x="322.34" y="440.96" width="7.41" height="7.40" fill="#05010a"/>
<rect x="329.45" y="440.96" width="7.41" height="7.40" fill="#090210"/>
<rect x="336.56" y="440.96" width="7.41" height="7.40" fill="#0c0415"/>
<rect x="343.67" y="440.96" width="7.41" height="7.40" fill="#10051c"/>
<rect x="350.78" y="440.96" width="7.41" height="7.40" fill="#07020e"/>
<rect x="357.89" y="440.96" width="7.41" height="7.40" fill="#0d0417"/>
<rect x="365.00" y="440.96" width="7.41" height="7.40" fill="#120620"/>
<rect x="372.11" y="440.96" width="7.41" height="7.40" fill="#1d0a32"/>
<rect x="379.22" y="440.96" width="7.41" height="7.40" fill="#0a0312"/>
<rect x="386.33" y="440.96" width="7.41" height="7.40" fill="#180829"/>
<rect x="393.44" y="440.96" width="7.41" height="7.40" fill="#280e43"/>
<rect x="400.55" y="440.96" width="7.41" height="7.40" fill="#592087"/>
<rect x="407.66" y="440.96" width="7.41" height="7.40" fill="#11061e"/>
<rect x="414.77" y="440.96" width="7.41" height="7.40" fill="#3b155e"/>
<rect x="421.88" y="440.96" width="7.41" height="7.40" fill="#a73760"/>
<rect x="428.99" y="440.96" width="7.11" height="7.40" fill="#ffa01e"/>
<rect x="151.70" y="433.86" width="7.41" height="7.40" fill="#ffaf2c"/>
<rect x="158.81" y="433.86" width="7.41" height="7.40" fill="#7d2a78"/>
<rect x="165.92" y="433.86" width="7.41" height="7.40" fill="#220c3a"/>
<rect x="173.03" y="433.86" width="7.41" height="7.40" fill="#0e0419"/>
<rect x="180.14" y="433.86" width="7.41" height="7.40" fill="#1b092d"/>
<rect x="187.25" y="433.86" width="7.41" height="7.40" fill="#0e0418"/>
<rect x="194.36" y="433.86" width="7.41" height="7.40" fill="#11061d"/>
<rect x="201.47" y="433.86" width="7.41" height="7.40" fill="#090210"/>
<rect x="208.58" y="433.86" width="7.41" height="7.40" fill="#0d0417"/>
<rect x="215.69" y="433.86" width="7.41" height="7.40" fill="#090210"/>
<rect x="222.80" y="433.86" width="7.41" height="7.40" fill="#0a0312"/>
<rect x="229.91" y="433.86" width="7.41" height="7.40" fill="#06020c"/>
<rect x="237.02" y="433.86" width="7.41" height="7.40" fill="#08020e"/>
<rect x="244.13" y="433.86" width="57.18" height="7.40" fill="#05010a"/>
<rect x="301.01" y="433.86" width="7.41" height="7.40" fill="#06020c"/>
<rect x="308.12" y="433.86" width="7.41" height="7.40" fill="#07020e"/>
<rect x="315.23" y="433.86" width="7.41" height="7.40" fill="#0a0312"/>
<rect x="322.34" y="433.86" width="7.41" height="7.40" fill="#05010a"/>
<rect x="329.45" y="433.86" width="7.41" height="7.40" fill="#090210"/>
<rect x="336.56" y="433.86" width="7.41" height="7.40" fill="#0c0415"/>
<rect x="343.67" y="433.86" width="7.41" height="7.40" fill="#10051c"/>
<rect x="350.78" y="433.86" width="7.41" height="7.40" fill="#07020e"/>
<rect x="357.89" y="433.86" width="7.41" height="7.40" fill="#0d0417"/>
<rect x="365.00" y="433.86" width="7.41" height="7.40" fill="#120620"/>
<rect x="372.11" y="433.86" width="7.41" height="7.40" fill="#1d0a32"/>
<rect x="379.22" y="433.86" width="7.41" height="7.40" fill="#0a0312"/>
<rect x="386.33" y="433.86" width="7.41" height="7.40" fill="#180829"/>
<rect x="393.44" y="433.86" width="7.41" height="7.40" fill="#280e43"/>
<rect x="400.55" y="433.86" width="7.41" height="7.40" fill="#592087"/>
<rect x="407.66" y="433.86" width="7.41" height="7.40" fill="#11061e"/>
<rect x="414.77" y="433.86" width="7.41" height="7.40" fill="#3b155f"/>
<rect x="421.88" y="433.86" width="7.41" height="7.40" fill="#a73760"/>
<rect x="428.99" y="433.86" width="7.11" height="7.40" fill="#ffa01e"/>
<rect x="151.70" y="426.76" width="7.41" height="7.40" fill="#ffaf2c"/>
<rect x="158.81" y="426.76" width="7.41" height="7.40" fill="#7d2a78"/>
<rect x="165.92" y="426.76" width="7.41" height="7.40" fill="#220c3a"/>
<rect x="173.03" y="426.76" width="7.41" height="7.40" fill="#0e0419"/>
<rect x="180.14" y="426.76" width="7.41" height="7.40" fill="#1a092c"/>
<rect x="187.25" y="426.76" width="7.41" height="7.40" fill="#0d0417"/>
<rect x="194.36" y="426.76" width="7.41" height="7.40" fill="#11061d"/>
<rect x="201.47" y="426.76" width="7.41" height="7.40" fill="#090210"/>
<rect x="208.58" y="426.76" width="7.41" height="7.40" fill="#0d0417"/>
<rect x="215.69" y="426.76" width="7.41" height="7.40" fill="#090210"/>
<rect x="222.80" y="426.76" width="7.41" height="7.40" fill="#0a0312"/>
<rect x="229.91" y="426.76" width="7.41" height="7.40" fill="#06020c"/>
<rect x="237.02" y="426.76" width="7.41" height="7.40" fill="#08020e"/>
<rect x="244.13" y="426.76" width="57.18" height="7.40" fill="#05010a"/>
<rect x="301.01" y="426.76" width="7.41" height="7.40" fill="#06020c"/>
<rect x="308.12" y="426.76" width="7.41" height="7.40" fill="#07020e"/>
<rect x="315.23" y="426.76" width="7.41" height="7.40" fill="#0a0312"/>
<rect x="322.34" y="426.76" width="7.41" height="7.40" fill="#05010a"/>
<rect x="329.45" y="426.76" width="7.41" height="7.40" fill="#090210"/>
<rect x="336.56" y="426.76" width="7.41" height="7.40" fill="#0c0415"/>
<rect x="343.67" y="426.76" width="7.41" height="7.40" fill="#10051c"/>
<rect x="350.78" y="426.76" width="7.41" height="7.40" fill="#07020e"/>
<rect x="357.89" y="426.76" width="7.41" height="7.40" fill="#0d0417"/>
<rect x="365.00" y="426.76" width="7.41" height="7.40" fill="#120620"/>
<rect x="372.11" y="426.76" width="7.41" height="7.40" fill="#1d0a32"/>
<rect x="379.22" y="426.76" width="7.41" height="7.40" fill="#0a0312"/>
<rect x="386.33" y="426.76" width="7.41" height="7.40" fill="#180829"/>
<rect x="393.44" y="426.76" width="7.41" height="7.40" fill="#280e44"/>
<rect x="400.55" y="426.76" width="7.41" height="7.40" fill="#592087"/>
<rect x="407.66" y="426.76" width="7.41" height="7.40" fill="#11061e"/>
<rect x="414.77" y="426.76" width="7.41" height="7.40" fill="#3b155f"/>
<rect x="421.88" y="426.76" width="7.41" height="7.40" fill="#a73760"/>
<rect x="428.99" y="426.76" width="7.11" height="7.40" fill="#ffa01e"/>
<rect x="151.70" y="419.65" width="7.41" height="7.40" fill="#ffaf2c"/>
<rect x="158.81" y="419.65" width="7.41" height="7.40" fill="#7d2a78"/>
<rect x="165.92" y="419.65" width="7.41" height="7.40" fill="#220c39"/>
<rect x="173.03" y="419.65" width="7.41" height="7.40" fill="#0e0419"/>
<rect x="180.14" y="419.65" width="7.41" height="7.40" fill="#19092b"/>
<rect x="187.25" y="419.65" width="7.41" height="7.40" fill="#0d0417"/>
<rect x="194.36" y="419.65" width="7.41" height="7.40" fill="#11051d"/>
<rect x="201.47" y="419.65" width="7.41" height="7.40" fill="#090210"/>
<rect x="208.58" y="419.65" width="7.41" height="7.40" fill="#0d0417"/>
<rect x="215.69" y="419.65" width="7.41" height="7.40" fill="#090210"/>
<rect x="222.80" y="419.65" width="7.41" height="7.40" fill="#0a0312"/>
<rect x="229.91" y="419.65" width="7.41" height="7.40" fill="#06020c"/>
<rect x="237.02" y="419.65" width="7.41" height="7.40" fill="#08020e"/>
<rect x="244.13" y="419.65" width="57.18" height="7.40" fill="#05010a"/>
<rect x="301.01" y="419.65" width="7.41" height="7.40" fill="#06020c"/>
<rect x="308.12" y="419.65" width="7.41" height="7.40" fill="#07020e"/>
<rect x="315.23" y="419.65" width="7.41" height="7.40" fill="#0a0312"/>
<rect x="322.34" y="419.65" width="7.41" height="7.40" fill="#05010a"/>
<rect x="329.45" y="419.65" width="7.41" height="7.40" fill="#090210"/>
<rect x="336.56" y="419.65" width="7.41" height="7.40" fill="#0c0415"/>
<rect x="343.67" y="419.65" width="7.41" height="7.40" fill="#10051c"/>
<rect x="350.78" y="419.65" width="7.41" height="7.40" fill="#07020e"/>
<rect x="357.89" y="419.65" width="7.41" height="7.40" fill="#0d0417"/>
<rect x="365.00" y="419.65" width="7.41" height="7.40" fill="#120620"/>
<rect x="372.11" y="419.65" width="7.41" height="7.40" fill="#1d0a32"/>
<rect x="379.22" y="419.65" width="7.41" height="7.40" fill="#0a0312"/>
<rect x="386.33" y="419.65" width="7.41" height="7.40" fill="#180829"/>
<rect x="393.44" y="419.65" width="7.41" height="7.40" fill="#280e44"/>
<rect x="400.55" y="419.65" width="7.41" height="7.40" fill="#592087"/>
<rect x="407.66" y="419.65" width="7.41" height="7.40" fill="#11061e"/>
<rect x="414.77" y="419.65" width="7.41" height="7.40" fill="#3b155f"/>
<rect x="421.88" y="419.65" width="7.41" height="7.40" fill="#a73760"/>
<rect x="428.99" y="419.65" width="7.11" height="7.40" fill="#ffa01e"/>
<rect x="151.70" y="412.55" width="7.41" height="7.40" fill="#ffaf2c"/>
<rect x="158.81" y="412.55" width="7.41" height="7.40" fill="#7d2a78"/>
<rect x="165.92" y="412.55" width="7.41" height="7.40" fill="#220c39"/>
<rect x="173.03" y="412.55" width="7.41" height="7.40" fill="#0e0419"/>
<rect x="180.14" y="412.55" width="7.41" height="7.40" fill="#19092b"/>
<rect x="187.25" y="412.55" width="7.41" height="7.40" fill="#0d0417"/>
<rect x="194.36" y="412.55" width="7.41" height="7.40" fill="#11051d"/>
<rect x="201.47" y="412.55" width="7.41" height="7.40" fill="#090210"/>
<rect x="208.58" y="412.55" width="7.41" height="7.40" fill="#0d0417"/>
<rect x="215.69" y="412.55" width="7.41" height="7.40" fill="#090210"/>
<rect x="222.80" y="412.55" width="7.41" height="7.40" fill="#0a0312"/>
<rect x="229.91" y="412.55" width="7.41" height="7.40" fill="#06020c"/>
<rect x="237.02" y="412.55" width="7.41" height="7.40" fill="#08020e"/>
<rect x="244.13" y="412.55" width="57.18" height="7.40" fill="#05010a"/>
<rect x="301.01" y="412.55" width="7.41" height="7.40" fill="#06020c"/>
<rect x="308.12" y="412.55" width="7.41" height="7.40" fill="#08020e"/>
<rect x="315.23" y="412.55" width="7.41" height="7.40" fill="#0a0312"/>
<rect x="322.34" y="412.55" width="7.41" height="7.40" fill="#05010a"/>
<rect x="329.45" y="412.55" width="7.41" height="7.40" fill="#090210"/>
<rect x="336.56" y="412.55" width="7.41" height="7.40" fill="#0c0415"/>
<rect x="343.67" y="412.55" width="7.41" height="7.40" fill="#10051c"/>
<rect x="350.78" y="412.55" width="7.41" height="7.40" fill="#08020e"/>
<rect x="357.89" y="412.55" width="7.41" height="7.40" fill="#0d0417"/>
<rect x="365.00" y="412.55" width="7.41" height="7.40" fill="#130620"/>
<rect x="372.11" y="412.55" width="7.41" height="7.40" fill="#1e0a32"/>
<rect x="379.22" y="412.55" width="7.41" height="7.40" fill="#0a0312"/>
<rect x="386.33" y="412.55" width="7.41" height="7.40" fill="#180829"/>
<rect x="393.44" y="412.55" width="7.41" height="7.40" fill="#290e44"/>
<rect x="400.55" y="412.55" width="7.41" height="7.40" fill="#5a2087"/>
<rect x="407.66" y="412.55" width="7.41" height="7.40" fill="#11061e"/>
<rect x="414.77" y="412.55" width="7.41" height="7.40" fill="#3c155f"/>
<rect x="421.88" y="412.55" width="7.41" height="7.40" fill="#a73760"/>
<rect x="428.99" y="412.55" width="7.11" height="7.40" fill="#ffa01e"/>
<rect x="151.70" y="409.00" width="7.41" height="3.85" fill="#ffaf2c"/>
<rect x="158.81" y="409.00" width="7.41" height="3.85" fill="#7d2a78"/>
<rect x="165.92" y="409.00" width="7.41" height="3.85" fill="#220c39"/>
<rect x="173.03" y="409.00" width="7.41" height="3.85" fill="#0e0419"/>
<rect x="180.14" y="409.00" width="7.41" height="3.85" fill="#19092b"/>
<rect x="187.25" y="409.00" width="7.41" height="3.85" fill="#0d0417"/>
<rect x="194.36" y="409.00" width="7.41" height="3.85" fill="#11051d"/>
<rect x="201.47" y="409.00" width="7.41" height="3.85" fill="#090210"/>
<rect x="208.58" y="409.00" width="7.41" height="3.85" fill="#0d0417"/>
<rect x="215.69" y="409.00" width="7.41" height="3.85" fill="#090210"/>
<rect x="222.80" y="409.00" width="7.41" height="3.85" fill="#0a0312"/>
<rect x="229.91" y="409.00" width="7.41" height="3.85" fill="#06020c"/>
<rect x="237.02" y="409.00" width="7.41" height="3.85" fill="#08020e"/>
<rect x="244.13" y="409.00" width="57.18" height="3.85" fill="#05010a"/>
<rect x="301.01" y="409.00" width="7.41" height="3.85" fill="#06020c"/>
<rect x="308.12" y="409.00" width="7.41" height="3.85" fill="#08020e"/>
<rect x="315.23" y="409.00" width="7.41" height="3.85" fill="#0a0312"/>
<rect x="322.34" y="409.00" width="7.41" height="3.85" fill="#05010a"/>
<rect x="329.45" y="409.00" width="7.41" height="3.85" fill="#090210"/>
<rect x="336.56" y="409.00" width="7.41" height="3.85" fill="#0c0415"/>
<rect x="343.67" y="409.00" width="7.41" height="3.85" fill="#10051c"/>
<rect x="350.78" y="409.00" width="7.41" height="3.85" fill="#08020e"/>
<rect x="357.89" y="409.00" width="7.41" height="3.85" fill="#0d0417"/>
<rect x="365.00" y="409.00" width="7.41" height="3.85" fill="#130620"/>
<rect x="372.11" y="409.00" width="7.41" height="3.85" fill="#1e0a32"/>
<rect x="379.22" y="409.00" width="7.41" height="3.85" fill="#0a0312"/>
<rect x="386.33" y="409.00" width="7.41" height="3.85" fill="#180829"/>
<rect x="393.44" y="409.00" width="7.41" height="3.85" fill="#290e44"/>
<rect x="400.55" y="409.00" width="7.41" height="3.85" fill="#5a2088"/>
<rect x="407.66" y="409.00" width="7.41" height="3.85" fill="#11061e"/>
<rect x="414.77" y="409.00" width="7.41" height="3.85" fill="#3c1560"/>
<rect x="421.88" y="409.00" width="7.41" height="3.85" fill="#a73760"/>
<rect x="428.99" y="409.00" width="7.11" height="3.85" fill="#ffa01e"/>
</g>
<rect x="145.5" y="402.6" width="296.9" height="296.9" fill="none" stroke="#9a9a9a" stroke-width="1.1"/>
<line x1="155.3" y1="699.5" x2="155.3" y2="692.2" stroke="#000" stroke-width="1.4"/>
<line x1="155.3" y1="402.6" x2="155.3" y2="409.9" stroke="#000" stroke-width="1.4"/>
<line x1="219.2" y1="699.5" x2="219.2" y2="695.1" stroke="#000" stroke-width="1.4"/>
<line x1="219.2" y1="402.6" x2="219.2" y2="407.0" stroke="#000" stroke-width="1.4"/>
<line x1="290.3" y1="699.5" x2="290.3" y2="692.2" stroke="#000" stroke-width="1.4"/>
<line x1="290.3" y1="402.6" x2="290.3" y2="409.9" stroke="#000" stroke-width="1.4"/>
<line x1="361.4" y1="699.5" x2="361.4" y2="695.1" stroke="#000" stroke-width="1.4"/>
<line x1="361.4" y1="402.6" x2="361.4" y2="407.0" stroke="#000" stroke-width="1.4"/>
<line x1="432.5" y1="699.5" x2="432.5" y2="692.2" stroke="#000" stroke-width="1.4"/>
<line x1="432.5" y1="402.6" x2="432.5" y2="409.9" stroke="#000" stroke-width="1.4"/>
<line x1="145.5" y1="693.4" x2="152.8" y2="693.4" stroke="#000" stroke-width="1.4"/>
<line x1="442.4" y1="693.4" x2="435.1" y2="693.4" stroke="#000" stroke-width="1.4"/>
<line x1="145.5" y1="622.4" x2="149.9" y2="622.4" stroke="#000" stroke-width="1.4"/>
<line x1="442.4" y1="622.4" x2="438.0" y2="622.4" stroke="#000" stroke-width="1.4"/>
<line x1="145.5" y1="551.3" x2="152.8" y2="551.3" stroke="#000" stroke-width="1.4"/>
<line x1="442.4" y1="551.3" x2="435.1" y2="551.3" stroke="#000" stroke-width="1.4"/>
<line x1="145.5" y1="480.3" x2="149.9" y2="480.3" stroke="#000" stroke-width="1.4"/>
<line x1="442.4" y1="480.3" x2="438.0" y2="480.3" stroke="#000" stroke-width="1.4"/>
<line x1="145.5" y1="409.3" x2="152.8" y2="409.3" stroke="#000" stroke-width="1.4"/>
<line x1="442.4" y1="409.3" x2="435.1" y2="409.3" stroke="#000" stroke-width="1.4"/>
<text x="141.4" y="417.8" font-size="35" text-anchor="end">80</text>
<text x="141.4" y="559.8" font-size="35" text-anchor="end">40</text>
<text x="141.4" y="704.2" font-size="35" text-anchor="end">0</text>
<text x="154.8" y="729.9" font-size="35" text-anchor="middle">1</text>
<text x="290.4" y="729.9" font-size="35" text-anchor="middle">20</text>
<text x="432.8" y="729.9" font-size="35" text-anchor="middle">40</text>
<rect x="528.2" y="504.6" width="33.6" height="217.6" fill="url(#gc)" stroke="#000" stroke-width="2.2"/>
<line x1="561.8" y1="504.6" x2="567.4" y2="504.6" stroke="#000" stroke-width="2"/>
<line x1="561.8" y1="613.4" x2="567.4" y2="613.4" stroke="#000" stroke-width="2"/>
<line x1="561.8" y1="722.2" x2="567.4" y2="722.2" stroke="#000" stroke-width="2"/>
<text x="571.2" y="512.6" font-size="33">1</text>
<text x="569.6" y="622.2" font-size="33">0.5</text>
<text x="569.6" y="731.2" font-size="33">0</text>
<line x1="472.4" x2="640.5" y1="428.6" y2="428.6" stroke="#000" stroke-width="1.7"/>
<text x="505.47" y="414.00" font-size="34.5" class="i" textLength="20.10" lengthAdjust="spacingAndGlyphs">n</text>
<text x="526.67" y="414.80" font-size="37">(</text>
<text x="542.95" y="414.00" font-size="34.5" class="i" textLength="10.79" lengthAdjust="spacingAndGlyphs">j</text>
<text x="555.49" y="418.60" font-size="23.5" class="i" textLength="9.50" lengthAdjust="spacingAndGlyphs">y</text>
<text x="568.19" y="414.00" font-size="34.5">,</text>
<text x="580.82" y="414.00" font-size="34.5" class="i" textLength="11.27" lengthAdjust="spacingAndGlyphs">t</text>
<text x="594.51" y="414.80" font-size="37">)</text>
<text x="538.47" y="460.40" font-size="34.5" class="i" textLength="20.10" lengthAdjust="spacingAndGlyphs">n</text>
<text x="559.67" y="461.20" font-size="37">(</text>
<text x="575.95" y="460.40" font-size="34.5" class="i" textLength="10.79" lengthAdjust="spacingAndGlyphs">j</text>
<text x="588.49" y="465.00" font-size="23.5" class="i" textLength="9.50" lengthAdjust="spacingAndGlyphs">y</text>
<text x="601.19" y="460.40" font-size="34.5">,</text>
<text x="613.82" y="460.40" font-size="34.5" class="i" textLength="11.27" lengthAdjust="spacingAndGlyphs">t</text>
<text x="627.51" y="461.20" font-size="37">)</text>
<text x="472.60" y="461.20" font-size="39.5" textLength="38.14" lengthAdjust="spacingAndGlyphs">&#8721;</text>
<text x="511.16" y="471.30" font-size="23.5" class="i" textLength="7.17" lengthAdjust="spacingAndGlyphs">j</text>
<text x="520.42" y="474.00" font-size="16.5" class="i" textLength="8.07" lengthAdjust="spacingAndGlyphs">y</text>
<g transform="translate(84.3,594) rotate(-90)">
<text x="0" y="0" font-size="34" textLength="61.5" lengthAdjust="spacingAndGlyphs">time</text>
<text x="75.27" y="0.00" font-size="34.5" class="i" textLength="10.94" lengthAdjust="spacingAndGlyphs">t</text>
</g>
<text x="163.4" y="779.1" font-size="33.5" textLength="51.6" lengthAdjust="spacingAndGlyphs">site</text>
<text x="230.54" y="779.10" font-size="34.5" class="i" textLength="10.49" lengthAdjust="spacingAndGlyphs">j</text>
<text x="242.69" y="782.30" font-size="23.5" class="i" textLength="9.50" lengthAdjust="spacingAndGlyphs">y</text>
<text x="266.9" y="779.1" font-size="33.5" textLength="59.0" lengthAdjust="spacingAndGlyphs">(out</text>
<text x="337.2" y="779.1" font-size="33.5" textLength="28.4" lengthAdjust="spacingAndGlyphs">of</text>
<text x="377.0" y="779.1" font-size="33.5" textLength="44.8" lengthAdjust="spacingAndGlyphs">40)</text>
</g>
</svg></body></html>
